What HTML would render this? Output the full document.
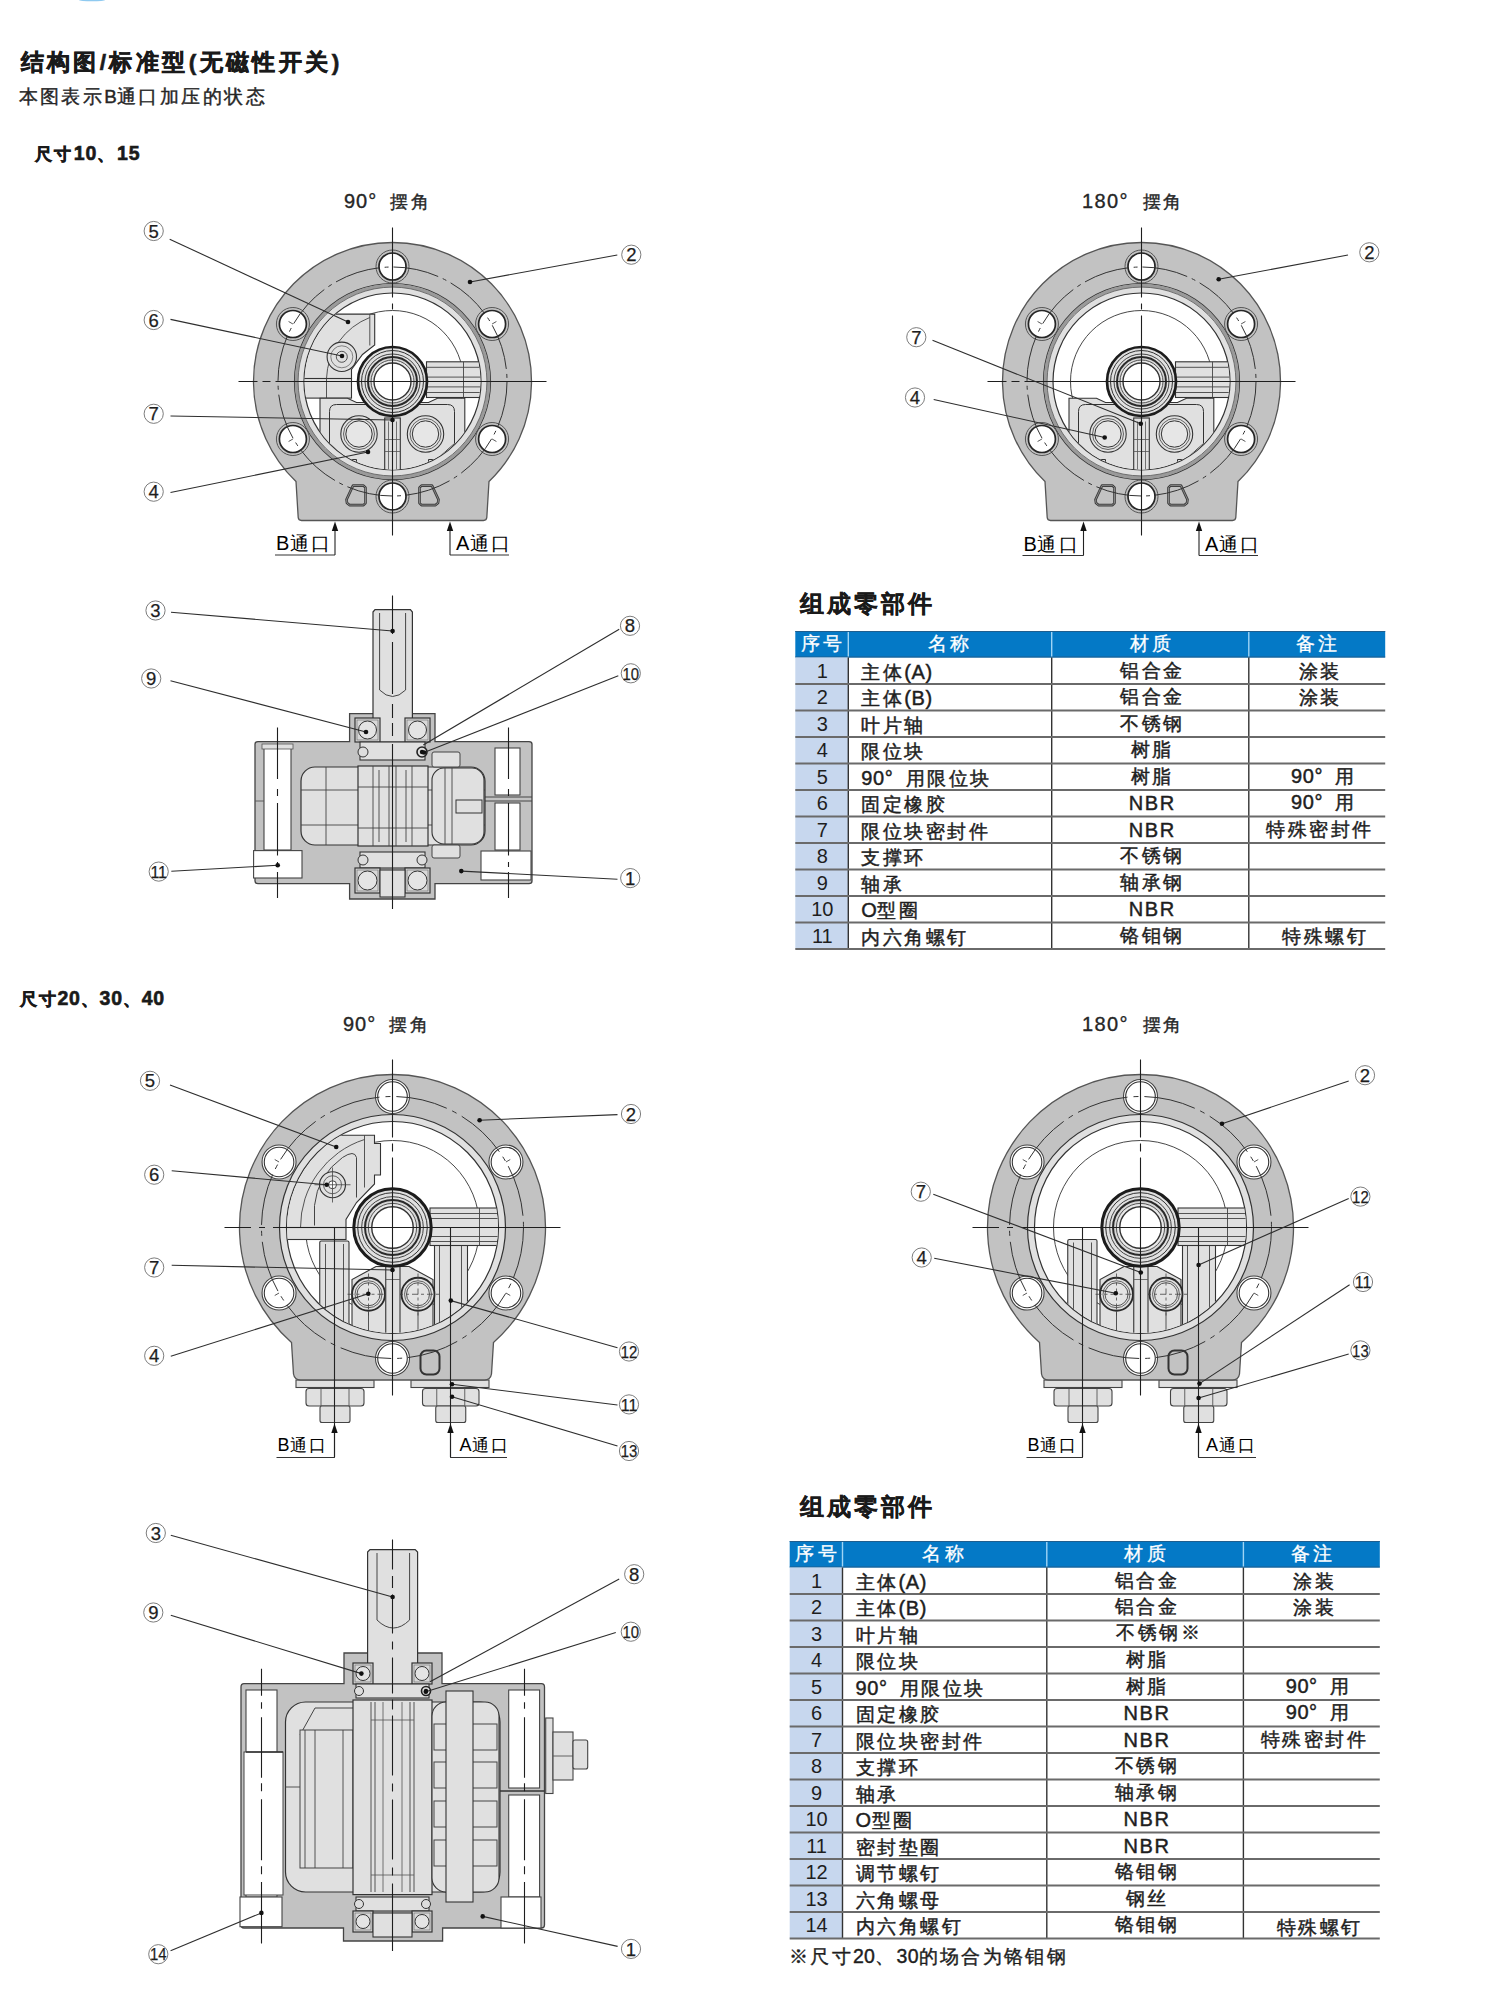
<!DOCTYPE html>
<html><head><meta charset="utf-8"><title>结构图</title>
<style>
html,body{margin:0;padding:0;background:#fff;}
body{width:1500px;height:2002px;overflow:hidden;position:relative;font-family:"Liberation Sans",sans-serif;}
svg{position:absolute;left:0;top:0;}
text{font-family:"Liberation Sans",sans-serif;}
</style></head><body>
<svg width="1500" height="2002" viewBox="0 0 1500 2002">
<text x="20.5" y="69.5" font-size="22.8" font-weight="bold" fill="#1a1a1a" stroke="#1a1a1a" stroke-width="0.6" xml:space="preserve"><tspan letter-spacing="3.4">结构图</tspan><tspan letter-spacing="3.4">/</tspan><tspan letter-spacing="3.4">标准型</tspan><tspan letter-spacing="3.4">(</tspan><tspan letter-spacing="3.4">无磁性开关</tspan><tspan letter-spacing="3.4">)</tspan></text>
<text x="18.5" y="102.5" font-size="18.8" fill="#262626" stroke="#262626" stroke-width="0.4" xml:space="preserve"><tspan letter-spacing="2.45">本图表示</tspan><tspan>B</tspan><tspan letter-spacing="2.45">通口加压的状态</tspan></text>
<text x="34.5" y="159.5" font-size="16.5" font-weight="bold" fill="#1a1a1a" stroke="#1a1a1a" stroke-width="0.6" xml:space="preserve"><tspan letter-spacing="2.6">尺寸</tspan><tspan font-size="19.5" letter-spacing="1">10</tspan><tspan letter-spacing="2.6">、</tspan><tspan font-size="19.5" letter-spacing="1">15</tspan></text>
<text x="19.5" y="1004.5" font-size="16.5" font-weight="bold" fill="#1a1a1a" stroke="#1a1a1a" stroke-width="0.6" xml:space="preserve"><tspan letter-spacing="2">尺寸</tspan><tspan font-size="19.5" letter-spacing="0.7">20</tspan><tspan letter-spacing="2">、</tspan><tspan font-size="19.5" letter-spacing="0.7">30</tspan><tspan letter-spacing="2">、</tspan><tspan font-size="19.5" letter-spacing="0.7">40</tspan></text>
<text x="344" y="208.3" font-size="18" fill="#262626" stroke="#262626" stroke-width="0.35" xml:space="preserve"><tspan font-size="20" letter-spacing="1">90°&#160;&#160;</tspan><tspan letter-spacing="2.6">摆角</tspan></text>
<text x="1082" y="208.3" font-size="18" fill="#262626" stroke="#262626" stroke-width="0.35" xml:space="preserve"><tspan font-size="20" letter-spacing="1.4">180°&#160;&#160;</tspan><tspan letter-spacing="2.6">摆角</tspan></text>
<text x="343" y="1030.8" font-size="18" fill="#262626" stroke="#262626" stroke-width="0.35" xml:space="preserve"><tspan font-size="20" letter-spacing="1">90°&#160;&#160;</tspan><tspan letter-spacing="2.6">摆角</tspan></text>
<text x="1082" y="1031.3" font-size="18" fill="#262626" stroke="#262626" stroke-width="0.35" xml:space="preserve"><tspan font-size="20" letter-spacing="1.4">180°&#160;&#160;</tspan><tspan letter-spacing="2.6">摆角</tspan></text>
<text x="799.5" y="611.5" font-size="23.5" font-weight="bold" fill="#1a1a1a" stroke="#1a1a1a" stroke-width="0.3" xml:space="preserve"><tspan letter-spacing="3.2">组成零部件</tspan></text>
<rect x="795.3" y="631" width="589.9" height="26.5" fill="#0479c6"/>
<line x1="795.3" y1="631.5" x2="1385.2" y2="631.5" stroke="#1f5e8e" stroke-width="1"/>
<line x1="795.3" y1="657" x2="1385.2" y2="657" stroke="#1f5e8e" stroke-width="1"/>
<rect x="795.3" y="657.5" width="53" height="291.5" fill="#c7d7ee"/>
<line x1="848.3" y1="632" x2="848.3" y2="656.5" stroke="#9fd4f5" stroke-width="1.4"/>
<line x1="848.3" y1="657.5" x2="848.3" y2="949" stroke="#333" stroke-width="1.4"/>
<line x1="1051.7" y1="632" x2="1051.7" y2="656.5" stroke="#9fd4f5" stroke-width="1.4"/>
<line x1="1051.7" y1="657.5" x2="1051.7" y2="949" stroke="#333" stroke-width="1.4"/>
<line x1="1248.8" y1="632" x2="1248.8" y2="656.5" stroke="#9fd4f5" stroke-width="1.4"/>
<line x1="1248.8" y1="657.5" x2="1248.8" y2="949" stroke="#333" stroke-width="1.4"/>
<line x1="795.3" y1="684" x2="1385.2" y2="684" stroke="#6a6a6a" stroke-width="2"/>
<line x1="795.3" y1="710.5" x2="1385.2" y2="710.5" stroke="#6a6a6a" stroke-width="2"/>
<line x1="795.3" y1="737" x2="1385.2" y2="737" stroke="#6a6a6a" stroke-width="2"/>
<line x1="795.3" y1="763.5" x2="1385.2" y2="763.5" stroke="#6a6a6a" stroke-width="2"/>
<line x1="795.3" y1="790" x2="1385.2" y2="790" stroke="#6a6a6a" stroke-width="2"/>
<line x1="795.3" y1="816.5" x2="1385.2" y2="816.5" stroke="#6a6a6a" stroke-width="2"/>
<line x1="795.3" y1="843" x2="1385.2" y2="843" stroke="#6a6a6a" stroke-width="2"/>
<line x1="795.3" y1="869.5" x2="1385.2" y2="869.5" stroke="#6a6a6a" stroke-width="2"/>
<line x1="795.3" y1="896" x2="1385.2" y2="896" stroke="#6a6a6a" stroke-width="2"/>
<line x1="795.3" y1="922.5" x2="1385.2" y2="922.5" stroke="#6a6a6a" stroke-width="2"/>
<line x1="795.3" y1="949" x2="1385.2" y2="949" stroke="#6a6a6a" stroke-width="2"/>
<text x="823.3" y="650.3" font-size="18.5" fill="#ffffff" text-anchor="middle" stroke="#ffffff" stroke-width="0.3" xml:space="preserve"><tspan letter-spacing="3.2">序号</tspan></text>
<text x="950" y="650.3" font-size="18.5" fill="#ffffff" text-anchor="middle" stroke="#ffffff" stroke-width="0.3" xml:space="preserve"><tspan letter-spacing="3.2">名称</tspan></text>
<text x="1151.75" y="650.3" font-size="18.5" fill="#ffffff" text-anchor="middle" stroke="#ffffff" stroke-width="0.3" xml:space="preserve"><tspan letter-spacing="3.2">材质</tspan></text>
<text x="1318.5" y="650.3" font-size="18.5" fill="#ffffff" text-anchor="middle" stroke="#ffffff" stroke-width="0.3" xml:space="preserve"><tspan letter-spacing="3.2">备注</tspan></text>
<text x="822.3" y="677.75" font-size="20" fill="#1e1e1e" text-anchor="middle">1</text>
<text x="861.3" y="678.75" font-size="18.5" fill="#1e1e1e" stroke="#1e1e1e" stroke-width="0.45" xml:space="preserve"><tspan letter-spacing="2.5">主体</tspan><tspan font-size="20" letter-spacing="0.6">(A)</tspan></text>
<text x="1152.25" y="676.55" font-size="18.5" fill="#1e1e1e" text-anchor="middle" stroke="#1e1e1e" stroke-width="0.45" xml:space="preserve"><tspan letter-spacing="2.5">铝合金</tspan></text>
<text x="1320" y="677.75" font-size="18.5" fill="#1e1e1e" text-anchor="middle" stroke="#1e1e1e" stroke-width="0.45" xml:space="preserve"><tspan letter-spacing="2.5">涂装</tspan></text>
<text x="822.3" y="704.25" font-size="20" fill="#1e1e1e" text-anchor="middle">2</text>
<text x="861.3" y="705.25" font-size="18.5" fill="#1e1e1e" stroke="#1e1e1e" stroke-width="0.45" xml:space="preserve"><tspan letter-spacing="2.5">主体</tspan><tspan font-size="20" letter-spacing="0.6">(B)</tspan></text>
<text x="1152.25" y="703.05" font-size="18.5" fill="#1e1e1e" text-anchor="middle" stroke="#1e1e1e" stroke-width="0.45" xml:space="preserve"><tspan letter-spacing="2.5">铝合金</tspan></text>
<text x="1320" y="704.25" font-size="18.5" fill="#1e1e1e" text-anchor="middle" stroke="#1e1e1e" stroke-width="0.45" xml:space="preserve"><tspan letter-spacing="2.5">涂装</tspan></text>
<text x="822.3" y="730.75" font-size="20" fill="#1e1e1e" text-anchor="middle">3</text>
<text x="861.3" y="731.75" font-size="18.5" fill="#1e1e1e" stroke="#1e1e1e" stroke-width="0.45" xml:space="preserve"><tspan letter-spacing="2.5">叶片轴</tspan></text>
<text x="1152.25" y="729.55" font-size="18.5" fill="#1e1e1e" text-anchor="middle" stroke="#1e1e1e" stroke-width="0.45" xml:space="preserve"><tspan letter-spacing="2.5">不锈钢</tspan></text>
<text x="822.3" y="757.25" font-size="20" fill="#1e1e1e" text-anchor="middle">4</text>
<text x="861.3" y="758.25" font-size="18.5" fill="#1e1e1e" stroke="#1e1e1e" stroke-width="0.45" xml:space="preserve"><tspan letter-spacing="2.5">限位块</tspan></text>
<text x="1152.25" y="756.05" font-size="18.5" fill="#1e1e1e" text-anchor="middle" stroke="#1e1e1e" stroke-width="0.45" xml:space="preserve"><tspan letter-spacing="2.5">树脂</tspan></text>
<text x="822.3" y="783.75" font-size="20" fill="#1e1e1e" text-anchor="middle">5</text>
<text x="861.3" y="784.75" font-size="18.5" fill="#1e1e1e" stroke="#1e1e1e" stroke-width="0.45" xml:space="preserve"><tspan font-size="20" letter-spacing="0.6">90°&#160;&#160;</tspan><tspan letter-spacing="2.5">用限位块</tspan></text>
<text x="1152.25" y="782.55" font-size="18.5" fill="#1e1e1e" text-anchor="middle" stroke="#1e1e1e" stroke-width="0.45" xml:space="preserve"><tspan letter-spacing="2.5">树脂</tspan></text>
<text x="1324" y="782.75" font-size="18.5" fill="#1e1e1e" text-anchor="middle" stroke="#1e1e1e" stroke-width="0.45" xml:space="preserve"><tspan font-size="20" letter-spacing="0.6">90°&#160;&#160;</tspan><tspan letter-spacing="2.5">用</tspan></text>
<text x="822.3" y="810.25" font-size="20" fill="#1e1e1e" text-anchor="middle">6</text>
<text x="861.3" y="811.25" font-size="18.5" fill="#1e1e1e" stroke="#1e1e1e" stroke-width="0.45" xml:space="preserve"><tspan letter-spacing="2.5">固定橡胶</tspan></text>
<text x="1152.25" y="810.25" font-size="18.5" fill="#1e1e1e" text-anchor="middle" stroke="#1e1e1e" stroke-width="0.45" xml:space="preserve"><tspan font-size="20" letter-spacing="1.6">NBR</tspan></text>
<text x="1324" y="809.25" font-size="18.5" fill="#1e1e1e" text-anchor="middle" stroke="#1e1e1e" stroke-width="0.45" xml:space="preserve"><tspan font-size="20" letter-spacing="0.6">90°&#160;&#160;</tspan><tspan letter-spacing="2.5">用</tspan></text>
<text x="822.3" y="836.75" font-size="20" fill="#1e1e1e" text-anchor="middle">7</text>
<text x="861.3" y="837.75" font-size="18.5" fill="#1e1e1e" stroke="#1e1e1e" stroke-width="0.45" xml:space="preserve"><tspan letter-spacing="2.5">限位块密封件</tspan></text>
<text x="1152.25" y="836.75" font-size="18.5" fill="#1e1e1e" text-anchor="middle" stroke="#1e1e1e" stroke-width="0.45" xml:space="preserve"><tspan font-size="20" letter-spacing="1.6">NBR</tspan></text>
<text x="1320" y="835.75" font-size="18.5" fill="#1e1e1e" text-anchor="middle" stroke="#1e1e1e" stroke-width="0.45" xml:space="preserve"><tspan letter-spacing="2.5">特殊密封件</tspan></text>
<text x="822.3" y="863.25" font-size="20" fill="#1e1e1e" text-anchor="middle">8</text>
<text x="861.3" y="864.25" font-size="18.5" fill="#1e1e1e" stroke="#1e1e1e" stroke-width="0.45" xml:space="preserve"><tspan letter-spacing="2.5">支撑环</tspan></text>
<text x="1152.25" y="862.05" font-size="18.5" fill="#1e1e1e" text-anchor="middle" stroke="#1e1e1e" stroke-width="0.45" xml:space="preserve"><tspan letter-spacing="2.5">不锈钢</tspan></text>
<text x="822.3" y="889.75" font-size="20" fill="#1e1e1e" text-anchor="middle">9</text>
<text x="861.3" y="890.75" font-size="18.5" fill="#1e1e1e" stroke="#1e1e1e" stroke-width="0.45" xml:space="preserve"><tspan letter-spacing="2.5">轴承</tspan></text>
<text x="1152.25" y="888.55" font-size="18.5" fill="#1e1e1e" text-anchor="middle" stroke="#1e1e1e" stroke-width="0.45" xml:space="preserve"><tspan letter-spacing="2.5">轴承钢</tspan></text>
<text x="822.3" y="916.25" font-size="20" fill="#1e1e1e" text-anchor="middle">10</text>
<text x="861.3" y="917.25" font-size="18.5" fill="#1e1e1e" stroke="#1e1e1e" stroke-width="0.45" xml:space="preserve"><tspan font-size="20" letter-spacing="0.6">O</tspan><tspan letter-spacing="2.5">型圈</tspan></text>
<text x="1152.25" y="916.25" font-size="18.5" fill="#1e1e1e" text-anchor="middle" stroke="#1e1e1e" stroke-width="0.45" xml:space="preserve"><tspan font-size="20" letter-spacing="1.6">NBR</tspan></text>
<text x="822.3" y="942.75" font-size="20" fill="#1e1e1e" text-anchor="middle">11</text>
<text x="861.3" y="943.75" font-size="18.5" fill="#1e1e1e" stroke="#1e1e1e" stroke-width="0.45" xml:space="preserve"><tspan letter-spacing="2.5">内六角螺钉</tspan></text>
<text x="1152.25" y="941.55" font-size="18.5" fill="#1e1e1e" text-anchor="middle" stroke="#1e1e1e" stroke-width="0.45" xml:space="preserve"><tspan letter-spacing="2.5">铬钼钢</tspan></text>
<text x="1325" y="942.75" font-size="18.5" fill="#1e1e1e" text-anchor="middle" stroke="#1e1e1e" stroke-width="0.45" xml:space="preserve"><tspan letter-spacing="2.5">特殊螺钉</tspan></text>
<text x="799.5" y="1514.5" font-size="23.5" font-weight="bold" fill="#1a1a1a" stroke="#1a1a1a" stroke-width="0.3" xml:space="preserve"><tspan letter-spacing="3.2">组成零部件</tspan></text>
<rect x="789.7" y="1541" width="590.1" height="26.5" fill="#0479c6"/>
<line x1="789.7" y1="1541.5" x2="1379.8" y2="1541.5" stroke="#1f5e8e" stroke-width="1"/>
<line x1="789.7" y1="1567" x2="1379.8" y2="1567" stroke="#1f5e8e" stroke-width="1"/>
<rect x="789.7" y="1567.5" width="52.8" height="371" fill="#c7d7ee"/>
<line x1="842.5" y1="1542" x2="842.5" y2="1566.5" stroke="#9fd4f5" stroke-width="1.4"/>
<line x1="842.5" y1="1567.5" x2="842.5" y2="1938.5" stroke="#333" stroke-width="1.4"/>
<line x1="1046.8" y1="1542" x2="1046.8" y2="1566.5" stroke="#9fd4f5" stroke-width="1.4"/>
<line x1="1046.8" y1="1567.5" x2="1046.8" y2="1938.5" stroke="#333" stroke-width="1.4"/>
<line x1="1243.4" y1="1542" x2="1243.4" y2="1566.5" stroke="#9fd4f5" stroke-width="1.4"/>
<line x1="1243.4" y1="1567.5" x2="1243.4" y2="1938.5" stroke="#333" stroke-width="1.4"/>
<line x1="789.7" y1="1594" x2="1379.8" y2="1594" stroke="#6a6a6a" stroke-width="2"/>
<line x1="789.7" y1="1620.5" x2="1379.8" y2="1620.5" stroke="#6a6a6a" stroke-width="2"/>
<line x1="789.7" y1="1647" x2="1379.8" y2="1647" stroke="#6a6a6a" stroke-width="2"/>
<line x1="789.7" y1="1673.5" x2="1379.8" y2="1673.5" stroke="#6a6a6a" stroke-width="2"/>
<line x1="789.7" y1="1700" x2="1379.8" y2="1700" stroke="#6a6a6a" stroke-width="2"/>
<line x1="789.7" y1="1726.5" x2="1379.8" y2="1726.5" stroke="#6a6a6a" stroke-width="2"/>
<line x1="789.7" y1="1753" x2="1379.8" y2="1753" stroke="#6a6a6a" stroke-width="2"/>
<line x1="789.7" y1="1779.5" x2="1379.8" y2="1779.5" stroke="#6a6a6a" stroke-width="2"/>
<line x1="789.7" y1="1806" x2="1379.8" y2="1806" stroke="#6a6a6a" stroke-width="2"/>
<line x1="789.7" y1="1832.5" x2="1379.8" y2="1832.5" stroke="#6a6a6a" stroke-width="2"/>
<line x1="789.7" y1="1859" x2="1379.8" y2="1859" stroke="#6a6a6a" stroke-width="2"/>
<line x1="789.7" y1="1885.5" x2="1379.8" y2="1885.5" stroke="#6a6a6a" stroke-width="2"/>
<line x1="789.7" y1="1912" x2="1379.8" y2="1912" stroke="#6a6a6a" stroke-width="2"/>
<line x1="789.7" y1="1938.5" x2="1379.8" y2="1938.5" stroke="#6a6a6a" stroke-width="2"/>
<text x="817.6" y="1560.3" font-size="18.5" fill="#ffffff" text-anchor="middle" stroke="#ffffff" stroke-width="0.3" xml:space="preserve"><tspan letter-spacing="3.2">序号</tspan></text>
<text x="944.65" y="1560.3" font-size="18.5" fill="#ffffff" text-anchor="middle" stroke="#ffffff" stroke-width="0.3" xml:space="preserve"><tspan letter-spacing="3.2">名称</tspan></text>
<text x="1146.6" y="1560.3" font-size="18.5" fill="#ffffff" text-anchor="middle" stroke="#ffffff" stroke-width="0.3" xml:space="preserve"><tspan letter-spacing="3.2">材质</tspan></text>
<text x="1313.1" y="1560.3" font-size="18.5" fill="#ffffff" text-anchor="middle" stroke="#ffffff" stroke-width="0.3" xml:space="preserve"><tspan letter-spacing="3.2">备注</tspan></text>
<text x="816.6" y="1587.75" font-size="20" fill="#1e1e1e" text-anchor="middle">1</text>
<text x="855.5" y="1588.75" font-size="18.5" fill="#1e1e1e" stroke="#1e1e1e" stroke-width="0.45" xml:space="preserve"><tspan letter-spacing="2.5">主体</tspan><tspan font-size="20" letter-spacing="0.6">(A)</tspan></text>
<text x="1147.1" y="1586.55" font-size="18.5" fill="#1e1e1e" text-anchor="middle" stroke="#1e1e1e" stroke-width="0.45" xml:space="preserve"><tspan letter-spacing="2.5">铝合金</tspan></text>
<text x="1314.6" y="1587.75" font-size="18.5" fill="#1e1e1e" text-anchor="middle" stroke="#1e1e1e" stroke-width="0.45" xml:space="preserve"><tspan letter-spacing="2.5">涂装</tspan></text>
<text x="816.6" y="1614.25" font-size="20" fill="#1e1e1e" text-anchor="middle">2</text>
<text x="855.5" y="1615.25" font-size="18.5" fill="#1e1e1e" stroke="#1e1e1e" stroke-width="0.45" xml:space="preserve"><tspan letter-spacing="2.5">主体</tspan><tspan font-size="20" letter-spacing="0.6">(B)</tspan></text>
<text x="1147.1" y="1613.05" font-size="18.5" fill="#1e1e1e" text-anchor="middle" stroke="#1e1e1e" stroke-width="0.45" xml:space="preserve"><tspan letter-spacing="2.5">铝合金</tspan></text>
<text x="1314.6" y="1614.25" font-size="18.5" fill="#1e1e1e" text-anchor="middle" stroke="#1e1e1e" stroke-width="0.45" xml:space="preserve"><tspan letter-spacing="2.5">涂装</tspan></text>
<text x="816.6" y="1640.75" font-size="20" fill="#1e1e1e" text-anchor="middle">3</text>
<text x="855.5" y="1641.75" font-size="18.5" fill="#1e1e1e" stroke="#1e1e1e" stroke-width="0.45" xml:space="preserve"><tspan letter-spacing="2.5">叶片轴</tspan></text>
<text x="1116.1" y="1639.25" font-size="18.5" fill="#1e1e1e" stroke="#1e1e1e" stroke-width="0.45" xml:space="preserve"><tspan letter-spacing="2.5">不锈钢※</tspan></text>
<text x="816.6" y="1667.25" font-size="20" fill="#1e1e1e" text-anchor="middle">4</text>
<text x="855.5" y="1668.25" font-size="18.5" fill="#1e1e1e" stroke="#1e1e1e" stroke-width="0.45" xml:space="preserve"><tspan letter-spacing="2.5">限位块</tspan></text>
<text x="1147.1" y="1666.05" font-size="18.5" fill="#1e1e1e" text-anchor="middle" stroke="#1e1e1e" stroke-width="0.45" xml:space="preserve"><tspan letter-spacing="2.5">树脂</tspan></text>
<text x="816.6" y="1693.75" font-size="20" fill="#1e1e1e" text-anchor="middle">5</text>
<text x="855.5" y="1694.75" font-size="18.5" fill="#1e1e1e" stroke="#1e1e1e" stroke-width="0.45" xml:space="preserve"><tspan font-size="20" letter-spacing="0.6">90°&#160;&#160;</tspan><tspan letter-spacing="2.5">用限位块</tspan></text>
<text x="1147.1" y="1692.55" font-size="18.5" fill="#1e1e1e" text-anchor="middle" stroke="#1e1e1e" stroke-width="0.45" xml:space="preserve"><tspan letter-spacing="2.5">树脂</tspan></text>
<text x="1318.6" y="1692.75" font-size="18.5" fill="#1e1e1e" text-anchor="middle" stroke="#1e1e1e" stroke-width="0.45" xml:space="preserve"><tspan font-size="20" letter-spacing="0.6">90°&#160;&#160;</tspan><tspan letter-spacing="2.5">用</tspan></text>
<text x="816.6" y="1720.25" font-size="20" fill="#1e1e1e" text-anchor="middle">6</text>
<text x="855.5" y="1721.25" font-size="18.5" fill="#1e1e1e" stroke="#1e1e1e" stroke-width="0.45" xml:space="preserve"><tspan letter-spacing="2.5">固定橡胶</tspan></text>
<text x="1147.1" y="1720.25" font-size="18.5" fill="#1e1e1e" text-anchor="middle" stroke="#1e1e1e" stroke-width="0.45" xml:space="preserve"><tspan font-size="20" letter-spacing="1.6">NBR</tspan></text>
<text x="1318.6" y="1719.25" font-size="18.5" fill="#1e1e1e" text-anchor="middle" stroke="#1e1e1e" stroke-width="0.45" xml:space="preserve"><tspan font-size="20" letter-spacing="0.6">90°&#160;&#160;</tspan><tspan letter-spacing="2.5">用</tspan></text>
<text x="816.6" y="1746.75" font-size="20" fill="#1e1e1e" text-anchor="middle">7</text>
<text x="855.5" y="1747.75" font-size="18.5" fill="#1e1e1e" stroke="#1e1e1e" stroke-width="0.45" xml:space="preserve"><tspan letter-spacing="2.5">限位块密封件</tspan></text>
<text x="1147.1" y="1746.75" font-size="18.5" fill="#1e1e1e" text-anchor="middle" stroke="#1e1e1e" stroke-width="0.45" xml:space="preserve"><tspan font-size="20" letter-spacing="1.6">NBR</tspan></text>
<text x="1314.6" y="1745.75" font-size="18.5" fill="#1e1e1e" text-anchor="middle" stroke="#1e1e1e" stroke-width="0.45" xml:space="preserve"><tspan letter-spacing="2.5">特殊密封件</tspan></text>
<text x="816.6" y="1773.25" font-size="20" fill="#1e1e1e" text-anchor="middle">8</text>
<text x="855.5" y="1774.25" font-size="18.5" fill="#1e1e1e" stroke="#1e1e1e" stroke-width="0.45" xml:space="preserve"><tspan letter-spacing="2.5">支撑环</tspan></text>
<text x="1147.1" y="1772.05" font-size="18.5" fill="#1e1e1e" text-anchor="middle" stroke="#1e1e1e" stroke-width="0.45" xml:space="preserve"><tspan letter-spacing="2.5">不锈钢</tspan></text>
<text x="816.6" y="1799.75" font-size="20" fill="#1e1e1e" text-anchor="middle">9</text>
<text x="855.5" y="1800.75" font-size="18.5" fill="#1e1e1e" stroke="#1e1e1e" stroke-width="0.45" xml:space="preserve"><tspan letter-spacing="2.5">轴承</tspan></text>
<text x="1147.1" y="1798.55" font-size="18.5" fill="#1e1e1e" text-anchor="middle" stroke="#1e1e1e" stroke-width="0.45" xml:space="preserve"><tspan letter-spacing="2.5">轴承钢</tspan></text>
<text x="816.6" y="1826.25" font-size="20" fill="#1e1e1e" text-anchor="middle">10</text>
<text x="855.5" y="1827.25" font-size="18.5" fill="#1e1e1e" stroke="#1e1e1e" stroke-width="0.45" xml:space="preserve"><tspan font-size="20" letter-spacing="0.6">O</tspan><tspan letter-spacing="2.5">型圈</tspan></text>
<text x="1147.1" y="1826.25" font-size="18.5" fill="#1e1e1e" text-anchor="middle" stroke="#1e1e1e" stroke-width="0.45" xml:space="preserve"><tspan font-size="20" letter-spacing="1.6">NBR</tspan></text>
<text x="816.6" y="1852.75" font-size="20" fill="#1e1e1e" text-anchor="middle">11</text>
<text x="855.5" y="1853.75" font-size="18.5" fill="#1e1e1e" stroke="#1e1e1e" stroke-width="0.45" xml:space="preserve"><tspan letter-spacing="2.5">密封垫圈</tspan></text>
<text x="1147.1" y="1852.75" font-size="18.5" fill="#1e1e1e" text-anchor="middle" stroke="#1e1e1e" stroke-width="0.45" xml:space="preserve"><tspan font-size="20" letter-spacing="1.6">NBR</tspan></text>
<text x="816.6" y="1879.25" font-size="20" fill="#1e1e1e" text-anchor="middle">12</text>
<text x="855.5" y="1880.25" font-size="18.5" fill="#1e1e1e" stroke="#1e1e1e" stroke-width="0.45" xml:space="preserve"><tspan letter-spacing="2.5">调节螺钉</tspan></text>
<text x="1147.1" y="1878.05" font-size="18.5" fill="#1e1e1e" text-anchor="middle" stroke="#1e1e1e" stroke-width="0.45" xml:space="preserve"><tspan letter-spacing="2.5">铬钼钢</tspan></text>
<text x="816.6" y="1905.75" font-size="20" fill="#1e1e1e" text-anchor="middle">13</text>
<text x="855.5" y="1906.75" font-size="18.5" fill="#1e1e1e" stroke="#1e1e1e" stroke-width="0.45" xml:space="preserve"><tspan letter-spacing="2.5">六角螺母</tspan></text>
<text x="1147.1" y="1904.55" font-size="18.5" fill="#1e1e1e" text-anchor="middle" stroke="#1e1e1e" stroke-width="0.45" xml:space="preserve"><tspan letter-spacing="2.5">钢丝</tspan></text>
<text x="816.6" y="1932.25" font-size="20" fill="#1e1e1e" text-anchor="middle">14</text>
<text x="855.5" y="1933.25" font-size="18.5" fill="#1e1e1e" stroke="#1e1e1e" stroke-width="0.45" xml:space="preserve"><tspan letter-spacing="2.5">内六角螺钉</tspan></text>
<text x="1147.1" y="1931.05" font-size="18.5" fill="#1e1e1e" text-anchor="middle" stroke="#1e1e1e" stroke-width="0.45" xml:space="preserve"><tspan letter-spacing="2.5">铬钼钢</tspan></text>
<text x="1319.6" y="1934.25" font-size="18.5" fill="#1e1e1e" text-anchor="middle" stroke="#1e1e1e" stroke-width="0.45" xml:space="preserve"><tspan letter-spacing="2.5">特殊螺钉</tspan></text>
<text x="789" y="1962.5" font-size="18.5" fill="#1e1e1e" stroke="#1e1e1e" stroke-width="0.4" xml:space="preserve"><tspan letter-spacing="2.3">※尺寸</tspan><tspan font-size="19.5" letter-spacing="0.3">20</tspan><tspan letter-spacing="2.3">、</tspan><tspan font-size="19.5" letter-spacing="0.3">30</tspan><tspan letter-spacing="2.3">的场合为铬钼钢</tspan></text>
<ellipse cx="92" cy="0" rx="13" ry="1.3" fill="#5fb3ea" opacity="0.7"/>
<path d="M296,481.54 L298.2,517.5 Q298.5,520.5 301.5,520.5 L483.5,520.5 Q486.5,520.5 486.8,517.5 L489,481.54 A139,139 0 1 0 296,481.54 Z" fill="#c2c2c2" stroke="#555" stroke-width="1.3" />
<path d="M353,485.6 L363.5,485.6 L365.5,487.6 L365.5,503.1 L363.5,505.1 L349.5,505.1 L347,503.1 L346.5,499.6 Z" fill="none" stroke="#3a3a3a" stroke-width="2.6" stroke-linejoin="round"/>
<path d="M353,485.6 L363.5,485.6 L365.5,487.6 L365.5,503.1 L363.5,505.1 L349.5,505.1 L347,503.1 L346.5,499.6 Z" fill="none" stroke="#a8a8a8" stroke-width="0.7" stroke-linejoin="round"/>
<path d="M432,485.6 L421.5,485.6 L419.5,487.6 L419.5,503.1 L421.5,505.1 L435.5,505.1 L438,503.1 L438.5,499.6 Z" fill="none" stroke="#3a3a3a" stroke-width="2.6" stroke-linejoin="round"/>
<path d="M432,485.6 L421.5,485.6 L419.5,487.6 L419.5,503.1 L421.5,505.1 L435.5,505.1 L438,503.1 L438.5,499.6 Z" fill="none" stroke="#a8a8a8" stroke-width="0.7" stroke-linejoin="round"/>
<circle cx="392.5" cy="381.5" r="98" fill="#e0e0e0" stroke="#333" stroke-width="1.2" />
<circle cx="392.5" cy="381.5" r="96.2" fill="none" stroke="#9a9a9a" stroke-width="3.2" />
<circle cx="392.5" cy="381.5" r="94.4" fill="none" stroke="#555" stroke-width="0.8" />
<circle cx="392.5" cy="381.5" r="88.5" fill="#fff" stroke="#333" stroke-width="1.2" />
<clipPath id="cl1"><circle cx="392.5" cy="381.5" r="88"/></clipPath>
<g clip-path="url(#cl1)">
<circle cx="392.5" cy="381.5" r="71" fill="none" stroke="#333" stroke-width="0.9" />
<path d="M292.5,314.1 L374.7,314.1 L374.7,344.9 L362.5,354.5 L351.5,369.5 L351.5,378.5 L292.5,378.5 Z" fill="#e0e0e0" stroke="#333" stroke-width="1.1" />
<line x1="369.8" y1="314.1" x2="369.8" y2="345.5" stroke="#444" stroke-width="0.9" />
<path d="M326.5,378.5 A68,68 0 0 1 369.8,317.5" fill="none" stroke="#444" stroke-width="0.9" />
<circle cx="341.8" cy="356.8" r="14.7" fill="#e0e0e0" stroke="#333" stroke-width="1.1" />
<circle cx="341.8" cy="356.8" r="11" fill="none" stroke="#666" stroke-width="0.8" />
<circle cx="341.8" cy="356.8" r="5.5" fill="none" stroke="#444" stroke-width="0.9" />
<rect x="292.5" y="378.5" width="59" height="19.6" fill="#e0e0e0" stroke="#333" stroke-width="1.1" />
<line x1="326.5" y1="378.5" x2="326.5" y2="398.1" stroke="#444" stroke-width="0.9" />
<path d="M320,481.5 L320,398.2 L347.5,398.2 L356.5,402.5 L428.5,402.5 L437.5,398.2 L464.8,398.2 L464.8,481.5 Z" fill="#e0e0e0" stroke="#333" stroke-width="1.1" />
<path d="M329.5,443.5 L329.5,411.5 Q329.5,404.5 336.5,404.5 L447.5,404.5 Q454.5,404.5 454.5,411.5 L454.5,443.5 L436.5,459.5 L428.5,459.5 L428.5,481.5" fill="none" stroke="#333" stroke-width="1" />
<path d="M329.5,443.5 L347.5,459.5 L356.5,459.5 L356.5,481.5" fill="none" stroke="#333" stroke-width="1" />
<circle cx="359" cy="434" r="18.2" fill="#e0e0e0" stroke="#333" stroke-width="1.1" />
<circle cx="359" cy="434" r="15.5" fill="none" stroke="#555" stroke-width="0.9" />
<circle cx="359" cy="434" r="13.2" fill="#e6e6e6" stroke="#333" stroke-width="1" />
<circle cx="425.5" cy="434" r="18.2" fill="#e0e0e0" stroke="#333" stroke-width="1.1" />
<circle cx="425.5" cy="434" r="15.5" fill="none" stroke="#555" stroke-width="0.9" />
<circle cx="425.5" cy="434" r="13.2" fill="#e6e6e6" stroke="#333" stroke-width="1" />
<rect x="384.7" y="418" width="15.6" height="63.5" fill="#e0e0e0" stroke="#333" stroke-width="1.1" />
<line x1="388.5" y1="421.5" x2="388.5" y2="481.5" stroke="#555" stroke-width="0.8" />
<line x1="396.5" y1="421.5" x2="396.5" y2="481.5" stroke="#555" stroke-width="0.8" />
<line x1="384.7" y1="439.5" x2="400.3" y2="439.5" stroke="#555" stroke-width="0.8" />
<line x1="384.7" y1="451.5" x2="400.3" y2="451.5" stroke="#555" stroke-width="0.8" />
<rect x="426.5" y="361.8" width="66" height="35.7" fill="#e0e0e0" stroke="#333" stroke-width="1.1" />
<line x1="426.5" y1="367.3" x2="492.5" y2="367.3" stroke="#444" stroke-width="0.9" />
<line x1="426.5" y1="377.1" x2="492.5" y2="377.1" stroke="#444" stroke-width="0.9" />
<line x1="426.5" y1="386.9" x2="492.5" y2="386.9" stroke="#444" stroke-width="0.9" />
<line x1="426.5" y1="392.5" x2="492.5" y2="392.5" stroke="#444" stroke-width="0.9" />
<line x1="463.5" y1="361.8" x2="463.5" y2="397.5" stroke="#444" stroke-width="0.9" />
</g>
<circle cx="392.5" cy="381.5" r="34.5" fill="#e0e0e0" stroke="#1c1c1c" stroke-width="2.7" />
<circle cx="392.5" cy="381.5" r="31" fill="none" stroke="#333" stroke-width="1" />
<circle cx="392.5" cy="381.5" r="27.5" fill="none" stroke="#444" stroke-width="1" />
<circle cx="392.5" cy="381.5" r="24.5" fill="#d6d6d6" stroke="#2a2a2a" stroke-width="2" />
<circle cx="392.5" cy="381.5" r="21.5" fill="#e8e8e8" stroke="#555" stroke-width="1" />
<circle cx="392.5" cy="381.5" r="18.5" fill="#fff" stroke="#333" stroke-width="1.4" />
<circle cx="492.09" cy="324" r="16.5" fill="none" stroke="#555" stroke-width="1" />
<circle cx="492.09" cy="324" r="13.5" fill="#fff" stroke="#262626" stroke-width="1.7" />
<line x1="492.09" y1="324" x2="496.42" y2="321.5" stroke="#444" stroke-width="0.9" />
<circle cx="392.5" cy="266.5" r="16.5" fill="none" stroke="#555" stroke-width="1" />
<circle cx="392.5" cy="266.5" r="13.5" fill="#fff" stroke="#262626" stroke-width="1.7" />
<line x1="392.5" y1="266.5" x2="392.5" y2="261.5" stroke="#444" stroke-width="0.9" />
<circle cx="292.91" cy="324" r="16.5" fill="none" stroke="#555" stroke-width="1" />
<circle cx="292.91" cy="324" r="13.5" fill="#fff" stroke="#262626" stroke-width="1.7" />
<line x1="292.91" y1="324" x2="288.58" y2="321.5" stroke="#444" stroke-width="0.9" />
<circle cx="292.91" cy="439" r="16.5" fill="none" stroke="#555" stroke-width="1" />
<circle cx="292.91" cy="439" r="13.5" fill="#fff" stroke="#262626" stroke-width="1.7" />
<line x1="292.91" y1="439" x2="288.58" y2="441.5" stroke="#444" stroke-width="0.9" />
<circle cx="392.5" cy="496.5" r="16.5" fill="none" stroke="#555" stroke-width="1" />
<circle cx="392.5" cy="496.5" r="13.5" fill="#fff" stroke="#262626" stroke-width="1.7" />
<line x1="392.5" y1="496.5" x2="392.5" y2="501.5" stroke="#444" stroke-width="0.9" />
<circle cx="492.09" cy="439" r="16.5" fill="none" stroke="#555" stroke-width="1" />
<circle cx="492.09" cy="439" r="13.5" fill="#fff" stroke="#262626" stroke-width="1.7" />
<line x1="492.09" y1="439" x2="496.42" y2="441.5" stroke="#444" stroke-width="0.9" />
<circle cx="392.5" cy="381.5" r="114.5" fill="none" stroke="#333" stroke-width="1" stroke-dasharray="46 5 4 5"/>
<line x1="238.5" y1="381.5" x2="546.5" y2="381.5" stroke="#1e1e1e" stroke-width="1.1" stroke-dasharray="19 5 8 5 500"/>
<line x1="392.5" y1="227.5" x2="392.5" y2="535.5" stroke="#1e1e1e" stroke-width="1.1" stroke-dasharray="70 6 6 6 600"/>
<line x1="275" y1="555" x2="335" y2="555" stroke="#333" stroke-width="1.1" />
<line x1="335" y1="555" x2="335" y2="528" stroke="#222" stroke-width="1.1" />
<path d="M335,521.5 L331.8,531 L338.2,531 Z" fill="#111"/>
<text x="276" y="550" font-size="18.5" xml:space="preserve"><tspan font-size="20" letter-spacing="0.5">B</tspan><tspan letter-spacing="2.6">通口</tspan></text>
<line x1="450" y1="555" x2="509" y2="555" stroke="#333" stroke-width="1.1" />
<line x1="450" y1="555" x2="450" y2="528" stroke="#222" stroke-width="1.1" />
<path d="M450,521.5 L446.8,531 L453.2,531 Z" fill="#111"/>
<text x="456" y="550" font-size="18.5" xml:space="preserve"><tspan font-size="20" letter-spacing="0.5">A</tspan><tspan letter-spacing="2.6">通口</tspan></text>
<circle cx="153.7" cy="231" r="9.6" fill="#fff" stroke="#6e6e6e" stroke-width="0.9" />
<text x="153.7" y="237.6" font-size="18.5" fill="#1e1e1e" text-anchor="middle" stroke="#1e1e1e" stroke-width="0.25">5</text>
<line x1="169.7" y1="239.2" x2="348" y2="322" stroke="#2e2e2e" stroke-width="1.1" />
<circle cx="348" cy="322" r="2.3" fill="#111" stroke="none" stroke-width="0" />
<circle cx="153.7" cy="320" r="9.6" fill="#fff" stroke="#6e6e6e" stroke-width="0.9" />
<text x="153.7" y="326.6" font-size="18.5" fill="#1e1e1e" text-anchor="middle" stroke="#1e1e1e" stroke-width="0.25">6</text>
<line x1="170.5" y1="319.4" x2="342" y2="356" stroke="#2e2e2e" stroke-width="1.1" />
<circle cx="342" cy="356" r="2.3" fill="#111" stroke="none" stroke-width="0" />
<circle cx="153.7" cy="413.8" r="9.6" fill="#fff" stroke="#6e6e6e" stroke-width="0.9" />
<text x="153.7" y="420.4" font-size="18.5" fill="#1e1e1e" text-anchor="middle" stroke="#1e1e1e" stroke-width="0.25">7</text>
<line x1="170.5" y1="416" x2="392.5" y2="420" stroke="#2e2e2e" stroke-width="1.1" />
<circle cx="392.5" cy="420" r="2.3" fill="#111" stroke="none" stroke-width="0" />
<circle cx="153.7" cy="491.7" r="9.6" fill="#fff" stroke="#6e6e6e" stroke-width="0.9" />
<text x="153.7" y="498.3" font-size="18.5" fill="#1e1e1e" text-anchor="middle" stroke="#1e1e1e" stroke-width="0.25">4</text>
<line x1="170.5" y1="492.5" x2="368" y2="452" stroke="#2e2e2e" stroke-width="1.1" />
<circle cx="368" cy="452" r="2.3" fill="#111" stroke="none" stroke-width="0" />
<circle cx="631.3" cy="254.7" r="9.6" fill="#fff" stroke="#6e6e6e" stroke-width="0.9" />
<text x="631.3" y="261.3" font-size="18.5" fill="#1e1e1e" text-anchor="middle" stroke="#1e1e1e" stroke-width="0.25">2</text>
<line x1="617.3" y1="255" x2="470" y2="282" stroke="#2e2e2e" stroke-width="1.1" />
<circle cx="470" cy="282" r="2.3" fill="#111" stroke="none" stroke-width="0" />
<path d="M1045,481.54 L1047.2,517.5 Q1047.5,520.5 1050.5,520.5 L1232.5,520.5 Q1235.5,520.5 1235.8,517.5 L1238,481.54 A139,139 0 1 0 1045,481.54 Z" fill="#c2c2c2" stroke="#555" stroke-width="1.3" />
<path d="M1102,485.6 L1112.5,485.6 L1114.5,487.6 L1114.5,503.1 L1112.5,505.1 L1098.5,505.1 L1096,503.1 L1095.5,499.6 Z" fill="none" stroke="#3a3a3a" stroke-width="2.6" stroke-linejoin="round"/>
<path d="M1102,485.6 L1112.5,485.6 L1114.5,487.6 L1114.5,503.1 L1112.5,505.1 L1098.5,505.1 L1096,503.1 L1095.5,499.6 Z" fill="none" stroke="#a8a8a8" stroke-width="0.7" stroke-linejoin="round"/>
<path d="M1181,485.6 L1170.5,485.6 L1168.5,487.6 L1168.5,503.1 L1170.5,505.1 L1184.5,505.1 L1187,503.1 L1187.5,499.6 Z" fill="none" stroke="#3a3a3a" stroke-width="2.6" stroke-linejoin="round"/>
<path d="M1181,485.6 L1170.5,485.6 L1168.5,487.6 L1168.5,503.1 L1170.5,505.1 L1184.5,505.1 L1187,503.1 L1187.5,499.6 Z" fill="none" stroke="#a8a8a8" stroke-width="0.7" stroke-linejoin="round"/>
<circle cx="1141.5" cy="381.5" r="98" fill="#e0e0e0" stroke="#333" stroke-width="1.2" />
<circle cx="1141.5" cy="381.5" r="96.2" fill="none" stroke="#9a9a9a" stroke-width="3.2" />
<circle cx="1141.5" cy="381.5" r="94.4" fill="none" stroke="#555" stroke-width="0.8" />
<circle cx="1141.5" cy="381.5" r="88.5" fill="#fff" stroke="#333" stroke-width="1.2" />
<clipPath id="cl2"><circle cx="1141.5" cy="381.5" r="88"/></clipPath>
<g clip-path="url(#cl2)">
<circle cx="1141.5" cy="381.5" r="71" fill="none" stroke="#333" stroke-width="0.9" />
<path d="M1069,481.5 L1069,398.2 L1096.5,398.2 L1105.5,402.5 L1177.5,402.5 L1186.5,398.2 L1213.8,398.2 L1213.8,481.5 Z" fill="#e0e0e0" stroke="#333" stroke-width="1.1" />
<path d="M1078.5,443.5 L1078.5,411.5 Q1078.5,404.5 1085.5,404.5 L1196.5,404.5 Q1203.5,404.5 1203.5,411.5 L1203.5,443.5 L1185.5,459.5 L1177.5,459.5 L1177.5,481.5" fill="none" stroke="#333" stroke-width="1" />
<path d="M1078.5,443.5 L1096.5,459.5 L1105.5,459.5 L1105.5,481.5" fill="none" stroke="#333" stroke-width="1" />
<circle cx="1108" cy="434" r="18.2" fill="#e0e0e0" stroke="#333" stroke-width="1.1" />
<circle cx="1108" cy="434" r="15.5" fill="none" stroke="#555" stroke-width="0.9" />
<circle cx="1108" cy="434" r="13.2" fill="#e6e6e6" stroke="#333" stroke-width="1" />
<circle cx="1174.5" cy="434" r="18.2" fill="#e0e0e0" stroke="#333" stroke-width="1.1" />
<circle cx="1174.5" cy="434" r="15.5" fill="none" stroke="#555" stroke-width="0.9" />
<circle cx="1174.5" cy="434" r="13.2" fill="#e6e6e6" stroke="#333" stroke-width="1" />
<rect x="1133.7" y="418" width="15.6" height="63.5" fill="#e0e0e0" stroke="#333" stroke-width="1.1" />
<line x1="1137.5" y1="421.5" x2="1137.5" y2="481.5" stroke="#555" stroke-width="0.8" />
<line x1="1145.5" y1="421.5" x2="1145.5" y2="481.5" stroke="#555" stroke-width="0.8" />
<line x1="1133.7" y1="439.5" x2="1149.3" y2="439.5" stroke="#555" stroke-width="0.8" />
<line x1="1133.7" y1="451.5" x2="1149.3" y2="451.5" stroke="#555" stroke-width="0.8" />
<rect x="1175.5" y="361.8" width="66" height="35.7" fill="#e0e0e0" stroke="#333" stroke-width="1.1" />
<line x1="1175.5" y1="367.3" x2="1241.5" y2="367.3" stroke="#444" stroke-width="0.9" />
<line x1="1175.5" y1="377.1" x2="1241.5" y2="377.1" stroke="#444" stroke-width="0.9" />
<line x1="1175.5" y1="386.9" x2="1241.5" y2="386.9" stroke="#444" stroke-width="0.9" />
<line x1="1175.5" y1="392.5" x2="1241.5" y2="392.5" stroke="#444" stroke-width="0.9" />
<line x1="1212.5" y1="361.8" x2="1212.5" y2="397.5" stroke="#444" stroke-width="0.9" />
</g>
<circle cx="1141.5" cy="381.5" r="34.5" fill="#e0e0e0" stroke="#1c1c1c" stroke-width="2.7" />
<circle cx="1141.5" cy="381.5" r="31" fill="none" stroke="#333" stroke-width="1" />
<circle cx="1141.5" cy="381.5" r="27.5" fill="none" stroke="#444" stroke-width="1" />
<circle cx="1141.5" cy="381.5" r="24.5" fill="#d6d6d6" stroke="#2a2a2a" stroke-width="2" />
<circle cx="1141.5" cy="381.5" r="21.5" fill="#e8e8e8" stroke="#555" stroke-width="1" />
<circle cx="1141.5" cy="381.5" r="18.5" fill="#fff" stroke="#333" stroke-width="1.4" />
<circle cx="1241.09" cy="324" r="16.5" fill="none" stroke="#555" stroke-width="1" />
<circle cx="1241.09" cy="324" r="13.5" fill="#fff" stroke="#262626" stroke-width="1.7" />
<line x1="1241.09" y1="324" x2="1245.42" y2="321.5" stroke="#444" stroke-width="0.9" />
<circle cx="1141.5" cy="266.5" r="16.5" fill="none" stroke="#555" stroke-width="1" />
<circle cx="1141.5" cy="266.5" r="13.5" fill="#fff" stroke="#262626" stroke-width="1.7" />
<line x1="1141.5" y1="266.5" x2="1141.5" y2="261.5" stroke="#444" stroke-width="0.9" />
<circle cx="1041.91" cy="324" r="16.5" fill="none" stroke="#555" stroke-width="1" />
<circle cx="1041.91" cy="324" r="13.5" fill="#fff" stroke="#262626" stroke-width="1.7" />
<line x1="1041.91" y1="324" x2="1037.58" y2="321.5" stroke="#444" stroke-width="0.9" />
<circle cx="1041.91" cy="439" r="16.5" fill="none" stroke="#555" stroke-width="1" />
<circle cx="1041.91" cy="439" r="13.5" fill="#fff" stroke="#262626" stroke-width="1.7" />
<line x1="1041.91" y1="439" x2="1037.58" y2="441.5" stroke="#444" stroke-width="0.9" />
<circle cx="1141.5" cy="496.5" r="16.5" fill="none" stroke="#555" stroke-width="1" />
<circle cx="1141.5" cy="496.5" r="13.5" fill="#fff" stroke="#262626" stroke-width="1.7" />
<line x1="1141.5" y1="496.5" x2="1141.5" y2="501.5" stroke="#444" stroke-width="0.9" />
<circle cx="1241.09" cy="439" r="16.5" fill="none" stroke="#555" stroke-width="1" />
<circle cx="1241.09" cy="439" r="13.5" fill="#fff" stroke="#262626" stroke-width="1.7" />
<line x1="1241.09" y1="439" x2="1245.42" y2="441.5" stroke="#444" stroke-width="0.9" />
<circle cx="1141.5" cy="381.5" r="114.5" fill="none" stroke="#333" stroke-width="1" stroke-dasharray="46 5 4 5"/>
<line x1="987.5" y1="381.5" x2="1295.5" y2="381.5" stroke="#1e1e1e" stroke-width="1.1" stroke-dasharray="19 5 8 5 500"/>
<line x1="1141.5" y1="227.5" x2="1141.5" y2="535.5" stroke="#1e1e1e" stroke-width="1.1" stroke-dasharray="70 6 6 6 600"/>
<line x1="1022.5" y1="555.5" x2="1083.5" y2="555.5" stroke="#333" stroke-width="1.1" />
<line x1="1083.5" y1="555.5" x2="1083.5" y2="528" stroke="#222" stroke-width="1.1" />
<path d="M1083.5,521.5 L1080.3,531 L1086.7,531 Z" fill="#111"/>
<text x="1023.5" y="550.5" font-size="18.5" xml:space="preserve"><tspan font-size="20" letter-spacing="0.5">B</tspan><tspan letter-spacing="2.6">通口</tspan></text>
<line x1="1199" y1="555.5" x2="1258" y2="555.5" stroke="#333" stroke-width="1.1" />
<line x1="1199" y1="555.5" x2="1199" y2="528" stroke="#222" stroke-width="1.1" />
<path d="M1199,521.5 L1195.8,531 L1202.2,531 Z" fill="#111"/>
<text x="1205" y="550.5" font-size="18.5" xml:space="preserve"><tspan font-size="20" letter-spacing="0.5">A</tspan><tspan letter-spacing="2.6">通口</tspan></text>
<circle cx="916.3" cy="337.2" r="9.6" fill="#fff" stroke="#6e6e6e" stroke-width="0.9" />
<text x="916.3" y="343.8" font-size="18.5" fill="#1e1e1e" text-anchor="middle" stroke="#1e1e1e" stroke-width="0.25">7</text>
<line x1="932.5" y1="340.3" x2="1140.8" y2="423.7" stroke="#2e2e2e" stroke-width="1.1" />
<circle cx="1140.8" cy="423.7" r="2.3" fill="#111" stroke="none" stroke-width="0" />
<circle cx="915" cy="397.5" r="9.6" fill="#fff" stroke="#6e6e6e" stroke-width="0.9" />
<text x="915" y="404.1" font-size="18.5" fill="#1e1e1e" text-anchor="middle" stroke="#1e1e1e" stroke-width="0.25">4</text>
<line x1="933.7" y1="399.5" x2="1104.7" y2="437.5" stroke="#2e2e2e" stroke-width="1.1" />
<circle cx="1104.7" cy="437.5" r="2.3" fill="#111" stroke="none" stroke-width="0" />
<circle cx="1369.3" cy="252.3" r="9.6" fill="#fff" stroke="#6e6e6e" stroke-width="0.9" />
<text x="1369.3" y="258.9" font-size="18.5" fill="#1e1e1e" text-anchor="middle" stroke="#1e1e1e" stroke-width="0.25">2</text>
<line x1="1348" y1="255" x2="1218.7" y2="279.3" stroke="#2e2e2e" stroke-width="1.1" />
<circle cx="1218.7" cy="279.3" r="2.3" fill="#111" stroke="none" stroke-width="0" />
<rect x="296" y="1380" width="78" height="7.5" fill="#e0e0e0" stroke="#444" stroke-width="1.1" />
<rect x="306" y="1388.5" width="58" height="17.5" rx="3" fill="#e0e0e0" stroke="#444" stroke-width="1.1" />
<line x1="321" y1="1388.5" x2="321" y2="1406" stroke="#555" stroke-width="0.9" />
<line x1="349" y1="1388.5" x2="349" y2="1406" stroke="#555" stroke-width="0.9" />
<rect x="320" y="1406" width="30" height="16.5" rx="2" fill="#e0e0e0" stroke="#444" stroke-width="1.1" />
<rect x="411" y="1380" width="78" height="7.5" fill="#e0e0e0" stroke="#444" stroke-width="1.1" />
<rect x="422.5" y="1388.5" width="56.5" height="17.5" rx="3" fill="#e0e0e0" stroke="#444" stroke-width="1.1" />
<line x1="436.75" y1="1388.5" x2="436.75" y2="1406" stroke="#555" stroke-width="0.9" />
<line x1="464.75" y1="1388.5" x2="464.75" y2="1406" stroke="#555" stroke-width="0.9" />
<rect x="435.75" y="1406" width="30" height="16.5" rx="2" fill="#e0e0e0" stroke="#444" stroke-width="1.1" />
<path d="M291.5,1342.43 L293.5,1374 Q294.5,1380 300.5,1380 L484.5,1380 Q490.5,1380 491.5,1374 L493.5,1342.43 A153,153 0 1 0 291.5,1342.43 Z" fill="#c2c2c2" stroke="#555" stroke-width="1.3" />
<rect x="420.5" y="1350.5" width="19" height="24" rx="6" fill="none" stroke="#333" stroke-width="2" />
<circle cx="392.5" cy="1227.5" r="113" fill="#e0e0e0" stroke="#333" stroke-width="1.2" />
<circle cx="392.5" cy="1227.5" r="106" fill="#fff" stroke="#333" stroke-width="1.2" />
<clipPath id="cl3"><circle cx="392.5" cy="1227.5" r="105.5"/></clipPath>
<g clip-path="url(#cl3)">
<circle cx="392.5" cy="1227.5" r="87" fill="none" stroke="#333" stroke-width="0.9" />
<path d="M272.5,1135.2 L374.5,1135.2 L374.5,1143.5 L380.5,1143.5 L380.5,1175 L374.5,1175 L374.5,1184 L356.5,1202.5 L346,1219.5 L346,1227.5 L272.5,1227.5 Z" fill="#e0e0e0" stroke="#333" stroke-width="1.1" />
<line x1="364.5" y1="1135.2" x2="364.5" y2="1187.5" stroke="#444" stroke-width="0.9" />
<path d="M314.5,1225.5 L314.5,1205.5 Q317.5,1175.5 342.5,1157.5 Q354.5,1149.5 356.5,1157.5 L356.5,1197.5" fill="none" stroke="#444" stroke-width="1" />
<path d="M300.5,1227.5 A92,92 0 0 1 364.5,1139.5" fill="none" stroke="#444" stroke-width="0.9" />
<circle cx="332.5" cy="1184.75" r="13" fill="#e0e0e0" stroke="#333" stroke-width="1.2" />
<circle cx="332.5" cy="1184.75" r="9" fill="none" stroke="#555" stroke-width="0.9" />
<circle cx="332.5" cy="1184.75" r="4" fill="#fff" stroke="#333" stroke-width="0.9" />
<line x1="314.5" y1="1184.75" x2="350.5" y2="1184.75" stroke="#444" stroke-width="0.8" />
<line x1="332.5" y1="1167.5" x2="332.5" y2="1202.5" stroke="#444" stroke-width="0.8" />
<rect x="272.5" y="1227.5" width="73.5" height="12" fill="#e0e0e0" stroke="#333" stroke-width="1.1" />
<rect x="319.75" y="1241" width="29.25" height="106.5" rx="1.5" fill="#e0e0e0" stroke="#333" stroke-width="1.1" />
<line x1="325.5" y1="1244" x2="325.5" y2="1347.5" stroke="#444" stroke-width="0.9" />
<line x1="343.5" y1="1244" x2="343.5" y2="1347.5" stroke="#444" stroke-width="0.9" />
<rect x="434.5" y="1244" width="33" height="103.5" fill="#e0e0e0" stroke="#333" stroke-width="1.1" />
<line x1="439.5" y1="1244" x2="439.5" y2="1347.5" stroke="#444" stroke-width="0.9" />
<line x1="461.5" y1="1244" x2="461.5" y2="1347.5" stroke="#444" stroke-width="0.9" />
<path d="M352,1347.5 L352,1279.5 L376,1266.5 L409,1266.5 L433,1279.5 L433,1347.5 Z" fill="#e0e0e0" stroke="#333" stroke-width="1.1" />
<line x1="368.5" y1="1311.5" x2="368.5" y2="1347.5" stroke="#444" stroke-width="0.9" />
<line x1="418" y1="1311.5" x2="418" y2="1347.5" stroke="#444" stroke-width="0.9" />
<circle cx="368.5" cy="1294.25" r="16.5" fill="#e0e0e0" stroke="#2a2a2a" stroke-width="1.8" />
<circle cx="368.5" cy="1294.25" r="13.5" fill="none" stroke="#555" stroke-width="0.9" />
<circle cx="368.5" cy="1294.25" r="11.5" fill="#e4e4e4" stroke="#444" stroke-width="0.9" />
<line x1="347.5" y1="1294.25" x2="389.5" y2="1294.25" stroke="#444" stroke-width="0.8" stroke-dasharray="6 3 3 3"/>
<line x1="368.5" y1="1273.5" x2="368.5" y2="1315.5" stroke="#444" stroke-width="0.8" stroke-dasharray="6 3 3 3"/>
<circle cx="418" cy="1294.25" r="16.5" fill="#e0e0e0" stroke="#2a2a2a" stroke-width="1.8" />
<circle cx="418" cy="1294.25" r="13.5" fill="none" stroke="#555" stroke-width="0.9" />
<circle cx="418" cy="1294.25" r="11.5" fill="#e4e4e4" stroke="#444" stroke-width="0.9" />
<line x1="397" y1="1294.25" x2="439" y2="1294.25" stroke="#444" stroke-width="0.8" stroke-dasharray="6 3 3 3"/>
<line x1="418" y1="1273.5" x2="418" y2="1315.5" stroke="#444" stroke-width="0.8" stroke-dasharray="6 3 3 3"/>
<rect x="385.75" y="1266.5" width="14.25" height="81" fill="#e0e0e0" stroke="#333" stroke-width="1.1" />
<line x1="385.75" y1="1279.5" x2="400" y2="1279.5" stroke="#555" stroke-width="0.8" />
<rect x="430" y="1208" width="80.5" height="37.5" fill="#e0e0e0" stroke="#333" stroke-width="1.1" />
<line x1="430" y1="1213.5" x2="510.5" y2="1213.5" stroke="#444" stroke-width="0.9" />
<line x1="430" y1="1218.5" x2="510.5" y2="1218.5" stroke="#444" stroke-width="0.9" />
<line x1="430" y1="1236.5" x2="510.5" y2="1236.5" stroke="#444" stroke-width="0.9" />
<line x1="430" y1="1241.5" x2="510.5" y2="1241.5" stroke="#444" stroke-width="0.9" />
<line x1="479.5" y1="1208" x2="479.5" y2="1245.5" stroke="#444" stroke-width="0.9" />
</g>
<circle cx="392.5" cy="1227.5" r="38.7" fill="#e0e0e0" stroke="#1c1c1c" stroke-width="3.03" />
<circle cx="392.5" cy="1227.5" r="34.77" fill="none" stroke="#333" stroke-width="1" />
<circle cx="392.5" cy="1227.5" r="30.85" fill="none" stroke="#444" stroke-width="1" />
<circle cx="392.5" cy="1227.5" r="27.48" fill="#d6d6d6" stroke="#2a2a2a" stroke-width="2" />
<circle cx="392.5" cy="1227.5" r="24.12" fill="#e8e8e8" stroke="#555" stroke-width="1" />
<circle cx="392.5" cy="1227.5" r="20.75" fill="#fff" stroke="#333" stroke-width="1.4" />
<circle cx="505.95" cy="1162" r="17" fill="#fff" stroke="#444" stroke-width="1.1" />
<circle cx="505.95" cy="1162" r="14.8" fill="#fff" stroke="#333" stroke-width="1.1" />
<line x1="505.95" y1="1162" x2="510.28" y2="1159.5" stroke="#444" stroke-width="0.9" />
<circle cx="392.5" cy="1096.5" r="17" fill="#fff" stroke="#444" stroke-width="1.1" />
<circle cx="392.5" cy="1096.5" r="14.8" fill="#fff" stroke="#333" stroke-width="1.1" />
<line x1="392.5" y1="1096.5" x2="392.5" y2="1091.5" stroke="#444" stroke-width="0.9" />
<circle cx="279.05" cy="1162" r="17" fill="#fff" stroke="#444" stroke-width="1.1" />
<circle cx="279.05" cy="1162" r="14.8" fill="#fff" stroke="#333" stroke-width="1.1" />
<line x1="279.05" y1="1162" x2="274.72" y2="1159.5" stroke="#444" stroke-width="0.9" />
<circle cx="279.05" cy="1293" r="17" fill="#fff" stroke="#444" stroke-width="1.1" />
<circle cx="279.05" cy="1293" r="14.8" fill="#fff" stroke="#333" stroke-width="1.1" />
<line x1="279.05" y1="1293" x2="274.72" y2="1295.5" stroke="#444" stroke-width="0.9" />
<circle cx="392.5" cy="1358.5" r="17" fill="#fff" stroke="#444" stroke-width="1.1" />
<circle cx="392.5" cy="1358.5" r="14.8" fill="#fff" stroke="#333" stroke-width="1.1" />
<line x1="392.5" y1="1358.5" x2="392.5" y2="1363.5" stroke="#444" stroke-width="0.9" />
<circle cx="505.95" cy="1293" r="17" fill="#fff" stroke="#444" stroke-width="1.1" />
<circle cx="505.95" cy="1293" r="14.8" fill="#fff" stroke="#333" stroke-width="1.1" />
<line x1="505.95" y1="1293" x2="510.28" y2="1295.5" stroke="#444" stroke-width="0.9" />
<circle cx="392.5" cy="1227.5" r="131" fill="none" stroke="#333" stroke-width="1" stroke-dasharray="52 6 5 6"/>
<line x1="224.5" y1="1227.5" x2="560.5" y2="1227.5" stroke="#1e1e1e" stroke-width="1.1" stroke-dasharray="26.5 8 6 8 600"/>
<line x1="392.5" y1="1059.5" x2="392.5" y2="1395.5" stroke="#1e1e1e" stroke-width="1.1" stroke-dasharray="78 6 8 6 600"/>
<line x1="334.5" y1="1227.5" x2="334.5" y2="1457.5" stroke="#222" stroke-width="1.1" />
<line x1="450.5" y1="1227.5" x2="450.5" y2="1457.5" stroke="#222" stroke-width="1.1" />
<line x1="276.5" y1="1457.5" x2="334.5" y2="1457.5" stroke="#333" stroke-width="1.1" />
<line x1="334.5" y1="1457.5" x2="334.5" y2="1430" stroke="#222" stroke-width="1.1" />
<path d="M334.5,1423.5 L331.3,1433 L337.7,1433 Z" fill="#111"/>
<text x="277.5" y="1451.2" font-size="16.5" xml:space="preserve"><tspan font-size="18" letter-spacing="0.5">B</tspan><tspan letter-spacing="2">通口</tspan></text>
<line x1="450.5" y1="1457.5" x2="507" y2="1457.5" stroke="#333" stroke-width="1.1" />
<line x1="450.5" y1="1457.5" x2="450.5" y2="1430" stroke="#222" stroke-width="1.1" />
<path d="M450.5,1423.5 L447.3,1433 L453.7,1433 Z" fill="#111"/>
<text x="459.5" y="1451.2" font-size="16.5" xml:space="preserve"><tspan font-size="18" letter-spacing="0.5">A</tspan><tspan letter-spacing="2">通口</tspan></text>
<circle cx="150" cy="1080.8" r="9.6" fill="#fff" stroke="#6e6e6e" stroke-width="0.9" />
<text x="150" y="1087.4" font-size="18.5" fill="#1e1e1e" text-anchor="middle" stroke="#1e1e1e" stroke-width="0.25">5</text>
<line x1="170" y1="1085" x2="336.2" y2="1147" stroke="#2e2e2e" stroke-width="1.1" />
<circle cx="336.2" cy="1147" r="2.3" fill="#111" stroke="none" stroke-width="0" />
<circle cx="154.2" cy="1174.7" r="9.6" fill="#fff" stroke="#6e6e6e" stroke-width="0.9" />
<text x="154.2" y="1181.3" font-size="18.5" fill="#1e1e1e" text-anchor="middle" stroke="#1e1e1e" stroke-width="0.25">6</text>
<line x1="171.7" y1="1170.8" x2="326.7" y2="1184.7" stroke="#2e2e2e" stroke-width="1.1" />
<circle cx="326.7" cy="1184.7" r="2.3" fill="#111" stroke="none" stroke-width="0" />
<circle cx="154.2" cy="1267.5" r="9.6" fill="#fff" stroke="#6e6e6e" stroke-width="0.9" />
<text x="154.2" y="1274.1" font-size="18.5" fill="#1e1e1e" text-anchor="middle" stroke="#1e1e1e" stroke-width="0.25">7</text>
<line x1="171.7" y1="1265.3" x2="392.5" y2="1270" stroke="#2e2e2e" stroke-width="1.1" />
<circle cx="392.5" cy="1270" r="2.3" fill="#111" stroke="none" stroke-width="0" />
<circle cx="154.2" cy="1355.8" r="9.6" fill="#fff" stroke="#6e6e6e" stroke-width="0.9" />
<text x="154.2" y="1362.4" font-size="18.5" fill="#1e1e1e" text-anchor="middle" stroke="#1e1e1e" stroke-width="0.25">4</text>
<line x1="170.8" y1="1356.3" x2="368.3" y2="1293.7" stroke="#2e2e2e" stroke-width="1.1" />
<circle cx="368.3" cy="1293.7" r="2.3" fill="#111" stroke="none" stroke-width="0" />
<circle cx="631" cy="1114" r="9.6" fill="#fff" stroke="#6e6e6e" stroke-width="0.9" />
<text x="631" y="1120.6" font-size="18.5" fill="#1e1e1e" text-anchor="middle" stroke="#1e1e1e" stroke-width="0.25">2</text>
<line x1="617.5" y1="1114.6" x2="479.6" y2="1120.2" stroke="#2e2e2e" stroke-width="1.1" />
<circle cx="479.6" cy="1120.2" r="2.3" fill="#111" stroke="none" stroke-width="0" />
<circle cx="629" cy="1351.5" r="9.6" fill="#fff" stroke="#6e6e6e" stroke-width="0.9" />
<text x="620.7" y="1357.7" font-size="17" fill="#1e1e1e" stroke="#1e1e1e" stroke-width="0.25" textLength="16.6" lengthAdjust="spacingAndGlyphs">12</text>
<line x1="617.5" y1="1347.7" x2="450.8" y2="1300.6" stroke="#2e2e2e" stroke-width="1.1" />
<circle cx="450.8" cy="1300.6" r="2.3" fill="#111" stroke="none" stroke-width="0" />
<circle cx="629" cy="1404.4" r="9.6" fill="#fff" stroke="#6e6e6e" stroke-width="0.9" />
<text x="620.7" y="1410.6" font-size="17" fill="#1e1e1e" stroke="#1e1e1e" stroke-width="0.25" textLength="16.6" lengthAdjust="spacingAndGlyphs">11</text>
<line x1="617.5" y1="1405" x2="452" y2="1384.2" stroke="#2e2e2e" stroke-width="1.1" />
<circle cx="452" cy="1384.2" r="2.3" fill="#111" stroke="none" stroke-width="0" />
<circle cx="629" cy="1451" r="9.6" fill="#fff" stroke="#6e6e6e" stroke-width="0.9" />
<text x="620.7" y="1457.2" font-size="17" fill="#1e1e1e" stroke="#1e1e1e" stroke-width="0.25" textLength="16.6" lengthAdjust="spacingAndGlyphs">13</text>
<line x1="617.5" y1="1446" x2="452" y2="1396.7" stroke="#2e2e2e" stroke-width="1.1" />
<circle cx="452" cy="1396.7" r="2.3" fill="#111" stroke="none" stroke-width="0" />
<rect x="1044" y="1380" width="78" height="7.5" fill="#e0e0e0" stroke="#444" stroke-width="1.1" />
<rect x="1054" y="1388.5" width="58" height="17.5" rx="3" fill="#e0e0e0" stroke="#444" stroke-width="1.1" />
<line x1="1069" y1="1388.5" x2="1069" y2="1406" stroke="#555" stroke-width="0.9" />
<line x1="1097" y1="1388.5" x2="1097" y2="1406" stroke="#555" stroke-width="0.9" />
<rect x="1068" y="1406" width="30" height="16.5" rx="2" fill="#e0e0e0" stroke="#444" stroke-width="1.1" />
<rect x="1159" y="1380" width="78" height="7.5" fill="#e0e0e0" stroke="#444" stroke-width="1.1" />
<rect x="1170.5" y="1388.5" width="56.5" height="17.5" rx="3" fill="#e0e0e0" stroke="#444" stroke-width="1.1" />
<line x1="1184.75" y1="1388.5" x2="1184.75" y2="1406" stroke="#555" stroke-width="0.9" />
<line x1="1212.75" y1="1388.5" x2="1212.75" y2="1406" stroke="#555" stroke-width="0.9" />
<rect x="1183.75" y="1406" width="30" height="16.5" rx="2" fill="#e0e0e0" stroke="#444" stroke-width="1.1" />
<path d="M1039.5,1342.43 L1041.5,1374 Q1042.5,1380 1048.5,1380 L1232.5,1380 Q1238.5,1380 1239.5,1374 L1241.5,1342.43 A153,153 0 1 0 1039.5,1342.43 Z" fill="#c2c2c2" stroke="#555" stroke-width="1.3" />
<rect x="1168.5" y="1350.5" width="19" height="24" rx="6" fill="none" stroke="#333" stroke-width="2" />
<circle cx="1140.5" cy="1227.5" r="113" fill="#e0e0e0" stroke="#333" stroke-width="1.2" />
<circle cx="1140.5" cy="1227.5" r="106" fill="#fff" stroke="#333" stroke-width="1.2" />
<clipPath id="cl4"><circle cx="1140.5" cy="1227.5" r="105.5"/></clipPath>
<g clip-path="url(#cl4)">
<circle cx="1140.5" cy="1227.5" r="87" fill="none" stroke="#333" stroke-width="0.9" />
<rect x="1067.75" y="1239.5" width="29.25" height="108" rx="1.5" fill="#e0e0e0" stroke="#333" stroke-width="1.1" />
<line x1="1073.5" y1="1242.5" x2="1073.5" y2="1347.5" stroke="#444" stroke-width="0.9" />
<line x1="1091.5" y1="1242.5" x2="1091.5" y2="1347.5" stroke="#444" stroke-width="0.9" />
<rect x="1182.5" y="1244" width="33" height="103.5" fill="#e0e0e0" stroke="#333" stroke-width="1.1" />
<line x1="1187.5" y1="1244" x2="1187.5" y2="1347.5" stroke="#444" stroke-width="0.9" />
<line x1="1209.5" y1="1244" x2="1209.5" y2="1347.5" stroke="#444" stroke-width="0.9" />
<path d="M1100,1347.5 L1100,1279.5 L1124,1266.5 L1157,1266.5 L1181,1279.5 L1181,1347.5 Z" fill="#e0e0e0" stroke="#333" stroke-width="1.1" />
<line x1="1116.5" y1="1311.5" x2="1116.5" y2="1347.5" stroke="#444" stroke-width="0.9" />
<line x1="1166" y1="1311.5" x2="1166" y2="1347.5" stroke="#444" stroke-width="0.9" />
<circle cx="1116.5" cy="1294.25" r="16.5" fill="#e0e0e0" stroke="#2a2a2a" stroke-width="1.8" />
<circle cx="1116.5" cy="1294.25" r="13.5" fill="none" stroke="#555" stroke-width="0.9" />
<circle cx="1116.5" cy="1294.25" r="11.5" fill="#e4e4e4" stroke="#444" stroke-width="0.9" />
<line x1="1095.5" y1="1294.25" x2="1137.5" y2="1294.25" stroke="#444" stroke-width="0.8" stroke-dasharray="6 3 3 3"/>
<line x1="1116.5" y1="1273.5" x2="1116.5" y2="1315.5" stroke="#444" stroke-width="0.8" stroke-dasharray="6 3 3 3"/>
<circle cx="1166" cy="1294.25" r="16.5" fill="#e0e0e0" stroke="#2a2a2a" stroke-width="1.8" />
<circle cx="1166" cy="1294.25" r="13.5" fill="none" stroke="#555" stroke-width="0.9" />
<circle cx="1166" cy="1294.25" r="11.5" fill="#e4e4e4" stroke="#444" stroke-width="0.9" />
<line x1="1145" y1="1294.25" x2="1187" y2="1294.25" stroke="#444" stroke-width="0.8" stroke-dasharray="6 3 3 3"/>
<line x1="1166" y1="1273.5" x2="1166" y2="1315.5" stroke="#444" stroke-width="0.8" stroke-dasharray="6 3 3 3"/>
<rect x="1133.75" y="1266.5" width="14.25" height="81" fill="#e0e0e0" stroke="#333" stroke-width="1.1" />
<line x1="1133.75" y1="1279.5" x2="1148" y2="1279.5" stroke="#555" stroke-width="0.8" />
<rect x="1178" y="1208" width="80.5" height="37.5" fill="#e0e0e0" stroke="#333" stroke-width="1.1" />
<line x1="1178" y1="1213.5" x2="1258.5" y2="1213.5" stroke="#444" stroke-width="0.9" />
<line x1="1178" y1="1218.5" x2="1258.5" y2="1218.5" stroke="#444" stroke-width="0.9" />
<line x1="1178" y1="1236.5" x2="1258.5" y2="1236.5" stroke="#444" stroke-width="0.9" />
<line x1="1178" y1="1241.5" x2="1258.5" y2="1241.5" stroke="#444" stroke-width="0.9" />
<line x1="1227.5" y1="1208" x2="1227.5" y2="1245.5" stroke="#444" stroke-width="0.9" />
</g>
<circle cx="1140.5" cy="1227.5" r="38.7" fill="#e0e0e0" stroke="#1c1c1c" stroke-width="3.03" />
<circle cx="1140.5" cy="1227.5" r="34.77" fill="none" stroke="#333" stroke-width="1" />
<circle cx="1140.5" cy="1227.5" r="30.85" fill="none" stroke="#444" stroke-width="1" />
<circle cx="1140.5" cy="1227.5" r="27.48" fill="#d6d6d6" stroke="#2a2a2a" stroke-width="2" />
<circle cx="1140.5" cy="1227.5" r="24.12" fill="#e8e8e8" stroke="#555" stroke-width="1" />
<circle cx="1140.5" cy="1227.5" r="20.75" fill="#fff" stroke="#333" stroke-width="1.4" />
<circle cx="1253.95" cy="1162" r="17" fill="#fff" stroke="#444" stroke-width="1.1" />
<circle cx="1253.95" cy="1162" r="14.8" fill="#fff" stroke="#333" stroke-width="1.1" />
<line x1="1253.95" y1="1162" x2="1258.28" y2="1159.5" stroke="#444" stroke-width="0.9" />
<circle cx="1140.5" cy="1096.5" r="17" fill="#fff" stroke="#444" stroke-width="1.1" />
<circle cx="1140.5" cy="1096.5" r="14.8" fill="#fff" stroke="#333" stroke-width="1.1" />
<line x1="1140.5" y1="1096.5" x2="1140.5" y2="1091.5" stroke="#444" stroke-width="0.9" />
<circle cx="1027.05" cy="1162" r="17" fill="#fff" stroke="#444" stroke-width="1.1" />
<circle cx="1027.05" cy="1162" r="14.8" fill="#fff" stroke="#333" stroke-width="1.1" />
<line x1="1027.05" y1="1162" x2="1022.72" y2="1159.5" stroke="#444" stroke-width="0.9" />
<circle cx="1027.05" cy="1293" r="17" fill="#fff" stroke="#444" stroke-width="1.1" />
<circle cx="1027.05" cy="1293" r="14.8" fill="#fff" stroke="#333" stroke-width="1.1" />
<line x1="1027.05" y1="1293" x2="1022.72" y2="1295.5" stroke="#444" stroke-width="0.9" />
<circle cx="1140.5" cy="1358.5" r="17" fill="#fff" stroke="#444" stroke-width="1.1" />
<circle cx="1140.5" cy="1358.5" r="14.8" fill="#fff" stroke="#333" stroke-width="1.1" />
<line x1="1140.5" y1="1358.5" x2="1140.5" y2="1363.5" stroke="#444" stroke-width="0.9" />
<circle cx="1253.95" cy="1293" r="17" fill="#fff" stroke="#444" stroke-width="1.1" />
<circle cx="1253.95" cy="1293" r="14.8" fill="#fff" stroke="#333" stroke-width="1.1" />
<line x1="1253.95" y1="1293" x2="1258.28" y2="1295.5" stroke="#444" stroke-width="0.9" />
<circle cx="1140.5" cy="1227.5" r="131" fill="none" stroke="#333" stroke-width="1" stroke-dasharray="52 6 5 6"/>
<line x1="972.5" y1="1227.5" x2="1308.5" y2="1227.5" stroke="#1e1e1e" stroke-width="1.1" stroke-dasharray="26.5 8 6 8 600"/>
<line x1="1140.5" y1="1059.5" x2="1140.5" y2="1395.5" stroke="#1e1e1e" stroke-width="1.1" stroke-dasharray="78 6 8 6 600"/>
<line x1="1082.5" y1="1227.5" x2="1082.5" y2="1457.5" stroke="#222" stroke-width="1.1" />
<line x1="1198.5" y1="1227.5" x2="1198.5" y2="1457.5" stroke="#222" stroke-width="1.1" />
<line x1="1026.5" y1="1457.5" x2="1082.5" y2="1457.5" stroke="#333" stroke-width="1.1" />
<line x1="1082.5" y1="1457.5" x2="1082.5" y2="1430" stroke="#222" stroke-width="1.1" />
<path d="M1082.5,1423.5 L1079.3,1433 L1085.7,1433 Z" fill="#111"/>
<text x="1027.5" y="1451.2" font-size="16.5" xml:space="preserve"><tspan font-size="18" letter-spacing="0.5">B</tspan><tspan letter-spacing="2">通口</tspan></text>
<line x1="1198.5" y1="1457.5" x2="1256" y2="1457.5" stroke="#333" stroke-width="1.1" />
<line x1="1198.5" y1="1457.5" x2="1198.5" y2="1430" stroke="#222" stroke-width="1.1" />
<path d="M1198.5,1423.5 L1195.3,1433 L1201.7,1433 Z" fill="#111"/>
<text x="1206" y="1451.2" font-size="16.5" xml:space="preserve"><tspan font-size="18" letter-spacing="0.5">A</tspan><tspan letter-spacing="2">通口</tspan></text>
<circle cx="920.8" cy="1191.7" r="9.6" fill="#fff" stroke="#6e6e6e" stroke-width="0.9" />
<text x="920.8" y="1198.3" font-size="18.5" fill="#1e1e1e" text-anchor="middle" stroke="#1e1e1e" stroke-width="0.25">7</text>
<line x1="933.3" y1="1194.2" x2="1140.8" y2="1272.5" stroke="#2e2e2e" stroke-width="1.1" />
<circle cx="1140.8" cy="1272.5" r="2.3" fill="#111" stroke="none" stroke-width="0" />
<circle cx="921.7" cy="1257.5" r="9.6" fill="#fff" stroke="#6e6e6e" stroke-width="0.9" />
<text x="921.7" y="1264.1" font-size="18.5" fill="#1e1e1e" text-anchor="middle" stroke="#1e1e1e" stroke-width="0.25">4</text>
<line x1="934.2" y1="1258.3" x2="1115.8" y2="1293.3" stroke="#2e2e2e" stroke-width="1.1" />
<circle cx="1115.8" cy="1293.3" r="2.3" fill="#111" stroke="none" stroke-width="0" />
<circle cx="1365" cy="1075.2" r="9.6" fill="#fff" stroke="#6e6e6e" stroke-width="0.9" />
<text x="1365" y="1081.8" font-size="18.5" fill="#1e1e1e" text-anchor="middle" stroke="#1e1e1e" stroke-width="0.25">2</text>
<line x1="1348.7" y1="1081" x2="1222" y2="1123.7" stroke="#2e2e2e" stroke-width="1.1" />
<circle cx="1222" cy="1123.7" r="2.3" fill="#111" stroke="none" stroke-width="0" />
<circle cx="1360.4" cy="1196.6" r="9.6" fill="#fff" stroke="#6e6e6e" stroke-width="0.9" />
<text x="1352.1" y="1202.8" font-size="17" fill="#1e1e1e" stroke="#1e1e1e" stroke-width="0.25" textLength="16.6" lengthAdjust="spacingAndGlyphs">12</text>
<line x1="1348.7" y1="1198.4" x2="1198.6" y2="1265" stroke="#2e2e2e" stroke-width="1.1" />
<circle cx="1198.6" cy="1265" r="2.3" fill="#111" stroke="none" stroke-width="0" />
<circle cx="1363" cy="1282" r="9.6" fill="#fff" stroke="#6e6e6e" stroke-width="0.9" />
<text x="1354.7" y="1288.2" font-size="17" fill="#1e1e1e" stroke="#1e1e1e" stroke-width="0.25" textLength="16.6" lengthAdjust="spacingAndGlyphs">11</text>
<line x1="1349.6" y1="1284.7" x2="1199.5" y2="1383.6" stroke="#2e2e2e" stroke-width="1.1" />
<circle cx="1199.5" cy="1383.6" r="2.3" fill="#111" stroke="none" stroke-width="0" />
<circle cx="1360.4" cy="1350.4" r="9.6" fill="#fff" stroke="#6e6e6e" stroke-width="0.9" />
<text x="1352.1" y="1356.6" font-size="17" fill="#1e1e1e" stroke="#1e1e1e" stroke-width="0.25" textLength="16.6" lengthAdjust="spacingAndGlyphs">13</text>
<line x1="1348.7" y1="1354" x2="1198.6" y2="1398" stroke="#2e2e2e" stroke-width="1.1" />
<circle cx="1198.6" cy="1398" r="2.3" fill="#111" stroke="none" stroke-width="0" />
<path d="M255,744 Q255,741.6 258,741.6 L349.6,741.6 L349.6,713.6 L435,713.6 L435,741.6 L529,741.6 Q532,741.6 532,744 L532,881 Q532,883.6 529,883.6 L435,883.6 L435,899 L349.6,899 L349.6,883.6 L258,883.6 Q255,883.6 255,881 Z" fill="#c2c2c2" stroke="#444" stroke-width="1.3" />
<rect x="264" y="748" width="27" height="102" fill="#fff" stroke="#444" stroke-width="1.1" />
<rect x="262" y="744" width="31" height="5" fill="#e0e0e0" stroke="#555" stroke-width="0.8" />
<rect x="253.6" y="850.6" width="48.4" height="27.4" fill="#fff" stroke="#444" stroke-width="1.1" />
<line x1="255" y1="801" x2="264" y2="801" stroke="#555" stroke-width="0.9" />
<rect x="495" y="748" width="25" height="47" fill="#fff" stroke="#444" stroke-width="1.1" />
<rect x="495" y="803" width="25" height="47" fill="#fff" stroke="#444" stroke-width="1.1" />
<rect x="481" y="851" width="50" height="29" fill="#fff" stroke="#444" stroke-width="1.1" />
<line x1="485" y1="797" x2="532" y2="797" stroke="#444" stroke-width="1" />
<line x1="485" y1="801" x2="532" y2="801" stroke="#444" stroke-width="1" />
<rect x="301" y="767" width="184" height="78" rx="14" fill="#e0e0e0" stroke="#333" stroke-width="1.2" />
<line x1="301" y1="790" x2="485" y2="790" stroke="#444" stroke-width="0.9" />
<line x1="301" y1="825" x2="485" y2="825" stroke="#444" stroke-width="0.9" />
<line x1="326" y1="767" x2="326" y2="845" stroke="#444" stroke-width="0.9" />
<rect x="358" y="766" width="70" height="80" fill="#e0e0e0" stroke="#333" stroke-width="1.2" />
<line x1="373" y1="766" x2="373" y2="846" stroke="#444" stroke-width="0.9" />
<line x1="379" y1="770" x2="379" y2="842" stroke="#444" stroke-width="0.9" />
<line x1="389" y1="766" x2="389" y2="846" stroke="#444" stroke-width="0.9" />
<line x1="396" y1="766" x2="396" y2="846" stroke="#444" stroke-width="0.9" />
<line x1="406" y1="770" x2="406" y2="842" stroke="#444" stroke-width="0.9" />
<line x1="412" y1="766" x2="412" y2="846" stroke="#444" stroke-width="0.9" />
<line x1="358" y1="787" x2="428" y2="787" stroke="#444" stroke-width="0.9" />
<line x1="358" y1="828" x2="428" y2="828" stroke="#444" stroke-width="0.9" />
<rect x="432" y="768" width="52" height="76" rx="12" fill="#e0e0e0" stroke="#333" stroke-width="1.1" />
<rect x="456" y="800" width="26" height="13" fill="#e0e0e0" stroke="#333" stroke-width="1" />
<line x1="445" y1="768" x2="445" y2="844" stroke="#444" stroke-width="0.9" />
<line x1="452" y1="768" x2="452" y2="844" stroke="#444" stroke-width="0.9" />
<rect x="432" y="752" width="28" height="15" rx="2" fill="#e0e0e0" stroke="#444" stroke-width="1" />
<rect x="432" y="845" width="28" height="13" rx="2" fill="#e0e0e0" stroke="#444" stroke-width="1" />
<path d="M373,612 L375,609.6 L410.4,609.6 L412.4,612 L412.4,742 L373,742 Z" fill="#e0e0e0" stroke="#333" stroke-width="1.2" />
<path d="M379.6,613 L379.6,690 Q392.6,703 405.6,690 L405.6,613" fill="none" stroke="#444" stroke-width="1" />
<rect x="355" y="718" width="25" height="24" fill="#d8d8d8" stroke="#333" stroke-width="1.2" />
<circle cx="367.5" cy="730" r="9" fill="#e4e4e4" stroke="#333" stroke-width="1" />
<rect x="357" y="720" width="21" height="20" fill="none" stroke="#666" stroke-width="0.6" />
<rect x="405" y="718" width="25" height="24" fill="#d8d8d8" stroke="#333" stroke-width="1.2" />
<circle cx="417.5" cy="730" r="9" fill="#e4e4e4" stroke="#333" stroke-width="1" />
<rect x="407" y="720" width="21" height="20" fill="none" stroke="#666" stroke-width="0.6" />
<rect x="360" y="742" width="65" height="18" fill="#e0e0e0" stroke="#333" stroke-width="1.1" />
<circle cx="363" cy="752" r="5" fill="#ddd" stroke="#333" stroke-width="1" />
<circle cx="422" cy="752" r="5" fill="#ddd" stroke="#222" stroke-width="1.6" />
<circle cx="422" cy="752" r="2.2" fill="#111" stroke="none" stroke-width="0" />
<rect x="360" y="852" width="65" height="16" fill="#e0e0e0" stroke="#333" stroke-width="1.1" />
<circle cx="363" cy="860" r="5" fill="#ddd" stroke="#333" stroke-width="1" />
<circle cx="422" cy="860" r="5" fill="#ddd" stroke="#333" stroke-width="1" />
<rect x="355" y="868" width="25" height="25" fill="#d8d8d8" stroke="#333" stroke-width="1.2" />
<circle cx="367.5" cy="880.5" r="9.5" fill="#e4e4e4" stroke="#333" stroke-width="1" />
<rect x="357" y="870" width="21" height="21" fill="none" stroke="#666" stroke-width="0.6" />
<rect x="405" y="868" width="25" height="25" fill="#d8d8d8" stroke="#333" stroke-width="1.2" />
<circle cx="417.5" cy="880.5" r="9.5" fill="#e4e4e4" stroke="#333" stroke-width="1" />
<rect x="407" y="870" width="21" height="21" fill="none" stroke="#666" stroke-width="0.6" />
<rect x="380" y="870" width="25" height="27" fill="#e0e0e0" stroke="#333" stroke-width="1.1" />
<line x1="392.5" y1="595.5" x2="392.5" y2="909" stroke="#1e1e1e" stroke-width="1.1" stroke-dasharray="38.5 8 52 10 14 5 13 8 500"/>
<line x1="277.5" y1="727.5" x2="277.5" y2="898" stroke="#1e1e1e" stroke-width="1.1" stroke-dasharray="51.5 10 7 7 52.5 6.5 5 5 100"/>
<line x1="508.5" y1="727.5" x2="508.5" y2="898" stroke="#1e1e1e" stroke-width="1.1" stroke-dasharray="51.5 10 7 7 52.5 6.5 5 5 100"/>
<circle cx="155.5" cy="610.5" r="9.6" fill="#fff" stroke="#6e6e6e" stroke-width="0.9" />
<text x="155.5" y="617.1" font-size="18.5" fill="#1e1e1e" text-anchor="middle" stroke="#1e1e1e" stroke-width="0.25">3</text>
<line x1="171" y1="612.2" x2="392.6" y2="631" stroke="#2e2e2e" stroke-width="1.1" />
<circle cx="392.6" cy="631" r="2.3" fill="#111" stroke="none" stroke-width="0" />
<circle cx="151.2" cy="678.5" r="9.6" fill="#fff" stroke="#6e6e6e" stroke-width="0.9" />
<text x="151.2" y="685.1" font-size="18.5" fill="#1e1e1e" text-anchor="middle" stroke="#1e1e1e" stroke-width="0.25">9</text>
<line x1="170.5" y1="680.7" x2="366" y2="732" stroke="#2e2e2e" stroke-width="1.1" />
<circle cx="366" cy="732" r="2.3" fill="#111" stroke="none" stroke-width="0" />
<circle cx="630" cy="625.8" r="9.6" fill="#fff" stroke="#6e6e6e" stroke-width="0.9" />
<text x="630" y="632.4" font-size="18.5" fill="#1e1e1e" text-anchor="middle" stroke="#1e1e1e" stroke-width="0.25">8</text>
<line x1="619.2" y1="629.2" x2="423.3" y2="745" stroke="#2e2e2e" stroke-width="1.1" />
<circle cx="630.8" cy="673.3" r="9.6" fill="#fff" stroke="#6e6e6e" stroke-width="0.9" />
<text x="622.5" y="679.5" font-size="17" fill="#1e1e1e" stroke="#1e1e1e" stroke-width="0.25" textLength="16.6" lengthAdjust="spacingAndGlyphs">10</text>
<line x1="618.3" y1="675.8" x2="424" y2="752.5" stroke="#2e2e2e" stroke-width="1.1" />
<circle cx="424" cy="752.5" r="2.3" fill="#111" stroke="none" stroke-width="0" />
<circle cx="158.7" cy="871.6" r="9.6" fill="#fff" stroke="#6e6e6e" stroke-width="0.9" />
<text x="150.4" y="877.8" font-size="17" fill="#1e1e1e" stroke="#1e1e1e" stroke-width="0.25" textLength="16.6" lengthAdjust="spacingAndGlyphs">11</text>
<line x1="171.3" y1="871.3" x2="277.7" y2="865.3" stroke="#2e2e2e" stroke-width="1.1" />
<circle cx="277.7" cy="865.3" r="2.3" fill="#111" stroke="none" stroke-width="0" />
<circle cx="630.2" cy="878.1" r="9.6" fill="#fff" stroke="#6e6e6e" stroke-width="0.9" />
<text x="630.2" y="884.7" font-size="18.5" fill="#1e1e1e" text-anchor="middle" stroke="#1e1e1e" stroke-width="0.25">1</text>
<line x1="617.5" y1="879.3" x2="461.3" y2="871.1" stroke="#2e2e2e" stroke-width="1.1" />
<circle cx="461.3" cy="871.1" r="2.3" fill="#111" stroke="none" stroke-width="0" />
<rect x="545.7" y="1718" width="7.3" height="75.5" fill="#e0e0e0" stroke="#444" stroke-width="1.1" />
<rect x="553" y="1732" width="20" height="48" fill="#e0e0e0" stroke="#444" stroke-width="1.1" />
<line x1="553" y1="1756" x2="573" y2="1756" stroke="#555" stroke-width="0.9" />
<rect x="573" y="1740" width="14.7" height="29" rx="2" fill="#e0e0e0" stroke="#444" stroke-width="1.1" />
<path d="M241,1687 Q241,1683.7 244,1683.7 L344,1683.7 L344,1653 L442,1653 L442,1683.7 L541.5,1683.7 Q544.5,1683.7 544.5,1687 L544.5,1925 Q544.5,1928 541.5,1928 L442.6,1928 L442.6,1941 L343.5,1941 L343.5,1928 L244,1928 Q241,1928 241,1925 Z" fill="#c2c2c2" stroke="#444" stroke-width="1.3" />
<rect x="246" y="1690" width="31" height="207" fill="#fff" stroke="#444" stroke-width="1.1" />
<rect x="244" y="1752" width="39" height="143" fill="#fff" stroke="#444" stroke-width="1" />
<line x1="246" y1="1752" x2="283" y2="1752" stroke="#333" stroke-width="1.6" />
<rect x="240" y="1897" width="42" height="29.7" fill="#fff" stroke="#444" stroke-width="1.1" />
<rect x="508.7" y="1690" width="30.9" height="98" fill="#fff" stroke="#444" stroke-width="1.1" />
<rect x="508.7" y="1795" width="30.9" height="102" fill="#fff" stroke="#444" stroke-width="1.1" />
<line x1="500" y1="1791" x2="544.5" y2="1791" stroke="#333" stroke-width="1.6" />
<rect x="501" y="1897" width="40" height="31" fill="#fff" stroke="#444" stroke-width="1.1" />
<rect x="285.5" y="1702" width="214.5" height="190" rx="20" fill="#e0e0e0" stroke="#333" stroke-width="1.2" />
<path d="M300,1735 L315,1708 L353,1708" fill="none" stroke="#444" stroke-width="1" />
<rect x="300" y="1730" width="53" height="138" fill="#e0e0e0" stroke="#444" stroke-width="1" />
<line x1="305" y1="1730" x2="305" y2="1868" stroke="#444" stroke-width="0.9" />
<line x1="315" y1="1730" x2="315" y2="1868" stroke="#444" stroke-width="0.9" />
<line x1="343" y1="1730" x2="343" y2="1868" stroke="#444" stroke-width="0.9" />
<line x1="285.5" y1="1787" x2="300" y2="1787" stroke="#444" stroke-width="0.9" />
<rect x="353" y="1700" width="79" height="194.6" fill="#e0e0e0" stroke="#333" stroke-width="1.2" />
<line x1="371" y1="1702" x2="371" y2="1892" stroke="#444" stroke-width="0.9" />
<line x1="375" y1="1702" x2="375" y2="1892" stroke="#444" stroke-width="0.9" />
<line x1="410" y1="1702" x2="410" y2="1892" stroke="#444" stroke-width="0.9" />
<line x1="414" y1="1702" x2="414" y2="1892" stroke="#444" stroke-width="0.9" />
<line x1="383" y1="1702" x2="383" y2="1892" stroke="#555" stroke-width="0.8" />
<line x1="402" y1="1702" x2="402" y2="1892" stroke="#555" stroke-width="0.8" />
<line x1="371" y1="1720" x2="414" y2="1720" stroke="#555" stroke-width="0.8" />
<line x1="371" y1="1875" x2="414" y2="1875" stroke="#555" stroke-width="0.8" />
<rect x="432" y="1702" width="67" height="190" rx="14" fill="#e0e0e0" stroke="#333" stroke-width="1.1" />
<rect x="434" y="1724" width="20" height="26" fill="#e0e0e0" stroke="#444" stroke-width="1" />
<rect x="465" y="1724" width="32" height="26" fill="#e0e0e0" stroke="#444" stroke-width="1" />
<rect x="434" y="1762" width="20" height="26" fill="#e0e0e0" stroke="#444" stroke-width="1" />
<rect x="465" y="1762" width="32" height="26" fill="#e0e0e0" stroke="#444" stroke-width="1" />
<rect x="434" y="1801" width="20" height="26" fill="#e0e0e0" stroke="#444" stroke-width="1" />
<rect x="465" y="1801" width="32" height="26" fill="#e0e0e0" stroke="#444" stroke-width="1" />
<rect x="434" y="1840" width="20" height="26" fill="#e0e0e0" stroke="#444" stroke-width="1" />
<rect x="465" y="1840" width="32" height="26" fill="#e0e0e0" stroke="#444" stroke-width="1" />
<rect x="446" y="1691" width="27" height="211" fill="#e0e0e0" stroke="#333" stroke-width="1.1" />
<path d="M367.6,1552 L370,1549.6 L415.2,1549.6 L417.6,1552 L417.6,1684 L367.6,1684 Z" fill="#e0e0e0" stroke="#333" stroke-width="1.2" />
<path d="M377,1553 L377,1620 Q393.3,1636 409.6,1620 L409.6,1553" fill="none" stroke="#444" stroke-width="1" />
<rect x="353" y="1663" width="20" height="21" fill="#d8d8d8" stroke="#333" stroke-width="1.2" />
<circle cx="363" cy="1673.5" r="7" fill="#e4e4e4" stroke="#333" stroke-width="1" />
<rect x="355" y="1665" width="16" height="17" fill="none" stroke="#666" stroke-width="0.6" />
<rect x="412" y="1663" width="20" height="21" fill="#d8d8d8" stroke="#333" stroke-width="1.2" />
<circle cx="422" cy="1673.5" r="7" fill="#e4e4e4" stroke="#333" stroke-width="1" />
<rect x="414" y="1665" width="16" height="17" fill="none" stroke="#666" stroke-width="0.6" />
<rect x="356" y="1684" width="73" height="14" fill="#e0e0e0" stroke="#333" stroke-width="1.1" />
<circle cx="359" cy="1691" r="4.5" fill="#ddd" stroke="#333" stroke-width="1" />
<circle cx="426" cy="1691" r="4.5" fill="#ddd" stroke="#222" stroke-width="1.6" />
<circle cx="426" cy="1691" r="2.2" fill="#111" stroke="none" stroke-width="0" />
<rect x="356" y="1897" width="73" height="14" fill="#e0e0e0" stroke="#333" stroke-width="1.1" />
<circle cx="359" cy="1904" r="4.5" fill="#ddd" stroke="#333" stroke-width="1" />
<circle cx="426" cy="1904" r="4.5" fill="#ddd" stroke="#333" stroke-width="1" />
<rect x="353" y="1911" width="20" height="21" fill="#d8d8d8" stroke="#333" stroke-width="1.2" />
<circle cx="363" cy="1921.5" r="7" fill="#e4e4e4" stroke="#333" stroke-width="1" />
<rect x="355" y="1913" width="16" height="17" fill="none" stroke="#666" stroke-width="0.6" />
<rect x="412" y="1911" width="20" height="21" fill="#d8d8d8" stroke="#333" stroke-width="1.2" />
<circle cx="422" cy="1921.5" r="7" fill="#e4e4e4" stroke="#333" stroke-width="1" />
<rect x="414" y="1913" width="16" height="17" fill="none" stroke="#666" stroke-width="0.6" />
<rect x="373" y="1913" width="39" height="24" fill="#e0e0e0" stroke="#333" stroke-width="1.1" />
<line x1="392.5" y1="1539.5" x2="392.5" y2="1951" stroke="#1e1e1e" stroke-width="1.1" stroke-dasharray="30 6.5 12 6.5 39 8 8 8 36 6 10 6 60 8 8 8 60 8 8 8 500"/>
<line x1="261.5" y1="1668.7" x2="261.5" y2="1943.5" stroke="#1e1e1e" stroke-width="1.1" stroke-dasharray="27 6.5 6.5 8.5 60.5 5.5 8 8 61 6 8 7.7 100"/>
<line x1="524.5" y1="1668.7" x2="524.5" y2="1943.5" stroke="#1e1e1e" stroke-width="1.1" stroke-dasharray="27 6.5 6.5 8.5 60.5 5.5 8 8 61 6 8 7.7 100"/>
<circle cx="155.8" cy="1533" r="9.6" fill="#fff" stroke="#6e6e6e" stroke-width="0.9" />
<text x="155.8" y="1539.6" font-size="18.5" fill="#1e1e1e" text-anchor="middle" stroke="#1e1e1e" stroke-width="0.25">3</text>
<line x1="170.8" y1="1535.3" x2="392.6" y2="1597" stroke="#2e2e2e" stroke-width="1.1" />
<circle cx="392.6" cy="1597" r="2.3" fill="#111" stroke="none" stroke-width="0" />
<circle cx="153.3" cy="1612.5" r="9.6" fill="#fff" stroke="#6e6e6e" stroke-width="0.9" />
<text x="153.3" y="1619.1" font-size="18.5" fill="#1e1e1e" text-anchor="middle" stroke="#1e1e1e" stroke-width="0.25">9</text>
<line x1="170.8" y1="1615.3" x2="361.4" y2="1673.6" stroke="#2e2e2e" stroke-width="1.1" />
<circle cx="361.4" cy="1673.6" r="2.3" fill="#111" stroke="none" stroke-width="0" />
<circle cx="634.2" cy="1574.2" r="9.6" fill="#fff" stroke="#6e6e6e" stroke-width="0.9" />
<text x="634.2" y="1580.8" font-size="18.5" fill="#1e1e1e" text-anchor="middle" stroke="#1e1e1e" stroke-width="0.25">8</text>
<line x1="619.2" y1="1579" x2="430" y2="1681.7" stroke="#2e2e2e" stroke-width="1.1" />
<circle cx="630.8" cy="1631.7" r="9.6" fill="#fff" stroke="#6e6e6e" stroke-width="0.9" />
<text x="622.5" y="1637.9" font-size="17" fill="#1e1e1e" stroke="#1e1e1e" stroke-width="0.25" textLength="16.6" lengthAdjust="spacingAndGlyphs">10</text>
<line x1="615.8" y1="1632.5" x2="425.8" y2="1691.7" stroke="#2e2e2e" stroke-width="1.1" />
<circle cx="425.8" cy="1691.7" r="2.3" fill="#111" stroke="none" stroke-width="0" />
<circle cx="158.3" cy="1954.2" r="9.6" fill="#fff" stroke="#6e6e6e" stroke-width="0.9" />
<text x="150" y="1960.4" font-size="17" fill="#1e1e1e" stroke="#1e1e1e" stroke-width="0.25" textLength="16.6" lengthAdjust="spacingAndGlyphs">14</text>
<line x1="170.6" y1="1950.7" x2="261.4" y2="1912.9" stroke="#2e2e2e" stroke-width="1.1" />
<circle cx="261.4" cy="1912.9" r="2.3" fill="#111" stroke="none" stroke-width="0" />
<circle cx="631" cy="1948.9" r="9.6" fill="#fff" stroke="#6e6e6e" stroke-width="0.9" />
<text x="631" y="1955.5" font-size="18.5" fill="#1e1e1e" text-anchor="middle" stroke="#1e1e1e" stroke-width="0.25">1</text>
<line x1="617.6" y1="1946.4" x2="482.7" y2="1916.4" stroke="#2e2e2e" stroke-width="1.1" />
<circle cx="482.7" cy="1916.4" r="2.3" fill="#111" stroke="none" stroke-width="0" />
</svg>
</body></html>
